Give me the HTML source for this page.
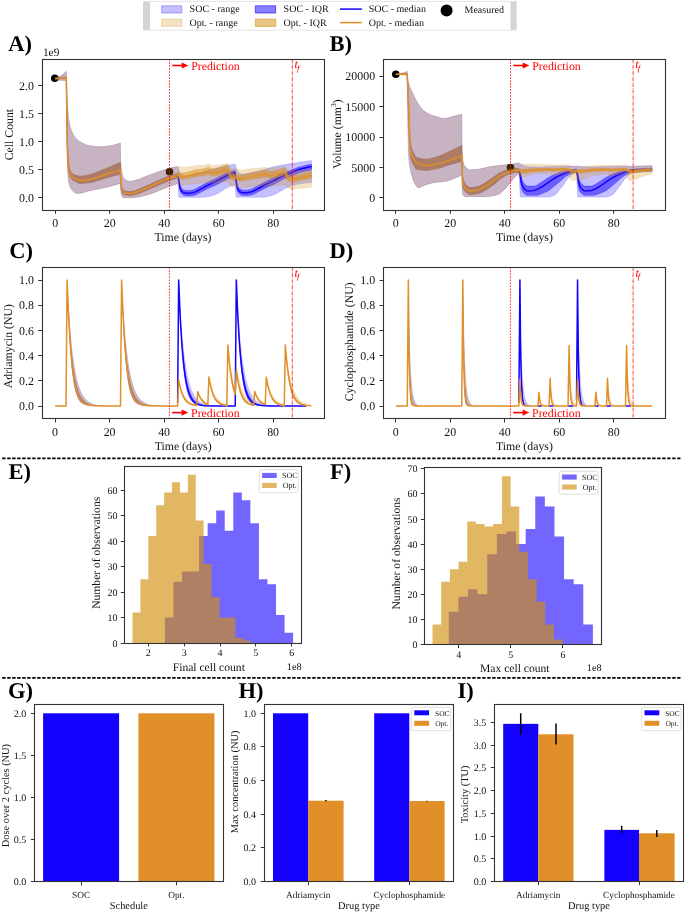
<!DOCTYPE html><html><head><meta charset="utf-8"><style>html,body{margin:0;padding:0;background:#fff;}svg{display:block;will-change:transform;text-rendering:geometricPrecision;}text{font-family:"Liberation Serif",serif;}</style></head><body>
<svg width="685" height="914" viewBox="0 0 685 914">
<rect width="685" height="914" fill="#fff"/>
<rect x="143" y="1" width="373.6" height="29.5" fill="#fff"/>
<rect x="143" y="1.5" width="7" height="28.5" fill="#d4d4d4"/>
<rect x="510.5" y="1.5" width="6.1" height="28.5" fill="#d4d4d4"/>
<line x1="143" y1="1.4" x2="516.6" y2="1.4" stroke="#e4e4e4" stroke-width="1"/>
<line x1="143" y1="30.2" x2="516.6" y2="30.2" stroke="#e4e4e4" stroke-width="1"/>
<rect x="161.6" y="5.8" width="20.2" height="7.2" fill="#1400ff" fill-opacity="0.25" stroke="#1400ff" stroke-opacity="0.25" stroke-width="1.2"/>
<rect x="161.6" y="19.2" width="20.2" height="7.2" fill="#d28e0d" fill-opacity="0.25" stroke="#d28e0d" stroke-opacity="0.25" stroke-width="1.2"/>
<rect x="255.4" y="5.8" width="20.2" height="7.2" fill="#1400ff" fill-opacity="0.5" stroke="#1400ff" stroke-opacity="0.5" stroke-width="1.2"/>
<rect x="255.4" y="19.2" width="20.2" height="7.2" fill="#d28e0d" fill-opacity="0.5" stroke="#d28e0d" stroke-opacity="0.5" stroke-width="1.2"/>
<line x1="340" y1="9.1" x2="361.8" y2="9.1" stroke="#1400ff" stroke-width="1.5"/>
<line x1="340" y1="22.6" x2="361.8" y2="22.6" stroke="#e18f28" stroke-width="1.5"/>
<circle cx="446.6" cy="10.5" r="6" fill="#000"/>
<text x="189.6" y="12.3" font-size="10" text-anchor="start" font-weight="normal" font-style="normal" fill="#111">SOC - range</text>
<text x="189.6" y="25.9" font-size="10" text-anchor="start" font-weight="normal" font-style="normal" fill="#111">Opt. - range</text>
<text x="283.6" y="12.3" font-size="10" text-anchor="start" font-weight="normal" font-style="normal" fill="#111">SOC - IQR</text>
<text x="283.6" y="25.9" font-size="10" text-anchor="start" font-weight="normal" font-style="normal" fill="#111">Opt. - IQR</text>
<text x="368.7" y="12.3" font-size="10" text-anchor="start" font-weight="normal" font-style="normal" fill="#111">SOC - median</text>
<text x="368.7" y="25.9" font-size="10" text-anchor="start" font-weight="normal" font-style="normal" fill="#111">Opt. - median</text>
<text x="464.5" y="13.3" font-size="10" text-anchor="start" font-weight="normal" font-style="normal" fill="#111">Measured</text>
<line x1="2.2" y1="458.3" x2="680.5" y2="458.3" stroke="#000" stroke-width="1.7" stroke-dasharray="3.4 1.6"/>
<line x1="2.2" y1="677.9" x2="680.5" y2="677.9" stroke="#000" stroke-width="1.7" stroke-dasharray="3.4 1.6"/>
<text x="8.3" y="50.7" font-size="22.5" text-anchor="start" font-weight="bold" font-style="normal" fill="#000">A)</text>
<text x="329.6" y="50.7" font-size="22.5" text-anchor="start" font-weight="bold" font-style="normal" fill="#000">B)</text>
<text x="9.2" y="257.5" font-size="22.5" text-anchor="start" font-weight="bold" font-style="normal" fill="#000">C)</text>
<text x="329.6" y="257.6" font-size="22.5" text-anchor="start" font-weight="bold" font-style="normal" fill="#000">D)</text>
<text x="8.6" y="478.6" font-size="22.5" text-anchor="start" font-weight="bold" font-style="normal" fill="#000">E)</text>
<text x="330.1" y="478.6" font-size="22.5" text-anchor="start" font-weight="bold" font-style="normal" fill="#000">F)</text>
<text x="8.1" y="697.5" font-size="22.5" text-anchor="start" font-weight="bold" font-style="normal" fill="#000">G)</text>
<text x="238.6" y="698.4" font-size="22.5" text-anchor="start" font-weight="bold" font-style="normal" fill="#000">H)</text>
<text x="457.6" y="697.6" font-size="22.5" text-anchor="start" font-weight="bold" font-style="normal" fill="#000">I)</text>
<path d="M55.2 78.2L56.71 77.78L58.23 77.2L60.5 75.99L63.27 74.05L66.3 71.3L66.5 80L67.5 103.23L68 112.63L68.51 117.7L69.01 121.25L69.51 123.94L70.76 128.61L71.51 130.72L72.52 133L73.52 134.89L74.77 136.89L76.03 138.5L77.53 139.96L79.29 141.29L81.29 142.53L83.8 143.81L86.31 144.79L88.81 145.61L90.82 146.02L94.83 146.48L98.34 146.74L101.35 146.8L103.85 146.64L107.11 146.2L112.88 145.15L116.39 144.26L120.4 143L120.6 160L121.35 169.87L121.85 173.01L122.61 175.78L123.36 177.35L124.11 178.57L124.86 179.44L125.37 179.82L126.62 180.45L127.88 180.93L129.63 181.28L131.39 181.22L133.39 180.83L136.91 179.84L139.67 178.88L146.19 176.13L163.25 170.05L171.03 167.87L177.8 166.4L178.2 167L178.95 170.34L179.45 171.9L180.2 173.29L180.95 174.33L181.7 174.95L183.45 175.61L185.21 175.96L186.71 175.98L189.96 175.59L196.22 174.22L200.22 173.06L210.23 169.73L213.98 168.67L220.99 166.98L235 164L235.4 165L236.65 169.18L237.65 171.29L238.4 172.48L238.9 172.95L240.66 173.64L242.16 173.95L243.66 173.99L246.92 173.59L254.43 171.97L263.19 169.69L272.45 167.12L279.21 165.61L289.22 163.83L311.5 160.5L311.5 182.5L307.49 182.67L303.24 183.17L295.73 184.49L292.98 185.2L289.72 186.38L285.47 188.26L276.7 193.47L274.45 194.62L272.2 195.43L269.95 196.08L264.94 197.04L262.94 197.2L236.15 197.15L235.9 195.58L235 185L233.5 185.3L231.75 185.8L227.74 187.31L225.49 188.53L218.99 192.76L217.23 193.73L213.73 195.25L211.23 196.05L209.23 196.57L205.97 197.1L203.72 197.3L183.96 197.4L178.95 197.21L178.7 196.65L178.2 186L177.8 183.6L173.28 185.03L168.52 186.73L154.72 192.43L150.96 193.82L146.94 195L143.43 195.88L137.16 197.14L134.15 197.59L132.14 197.7L123.61 197.7L123.11 197.56L122.61 197.14L122.11 196.48L121.6 195.57L121.35 194.5L120.6 189L120.4 183.4L113.88 185.35L107.87 186.95L103.1 188.04L90.82 190.47L82.04 192.91L78.28 193.55L77.28 193.6L76.53 193.46L74.77 192.68L73.52 191.76L72.02 190.16L70.76 188.18L69.76 185.89L69.01 183.47L68.25 179.39L68 176.99L67.5 167.51L67 151.42L66.75 135.9L66.3 80.5L55.2 80 Z" fill="#1400ff" fill-opacity="0.25" stroke="#1400ff" stroke-opacity="0.25" stroke-width="0.6" stroke-linejoin="round"/>
<path d="M55.2 78.2L66.3 76.9L67.25 132.78L67.5 142.61L68 154.89L68.51 161.69L69.01 165.37L69.51 168.11L70.01 170L70.51 171.17L71.26 172.47L72.27 173.61L73.52 174.46L75.02 175.11L77.28 175.75L78.78 176.07L80.04 176.19L81.54 176.17L83.55 175.98L85.55 175.65L91.57 174.28L94.33 173.32L100.34 170.72L110.62 166.7L120.4 162.4L120.6 173L121.1 181.5L121.6 185.38L122.11 187.46L122.61 188.72L123.11 189.65L123.61 190.21L125.37 191.18L126.87 191.58L129.63 191.51L132.89 191.18L135.65 190.45L143.43 187.37L156.98 181.17L166.51 177.07L169.02 176.13L172.03 175.15L177.8 173.6L179.95 184.4L180.45 186.13L181.2 187.64L181.7 188.3L182.45 188.97L183.96 189.9L184.71 190.17L186.21 190.54L187.96 190.7L189.46 190.57L191.21 190.26L193.71 189.64L194.96 189.18L208.98 181.6L211.48 180.38L216.23 178.29L225.24 173.71L227.49 172.7L230 171.75L232.5 170.91L235 170.2L235.4 175.1L237.15 184.01L237.65 185.73L238.15 186.81L238.65 187.61L239.15 188.14L239.91 188.76L240.91 189.38L241.91 189.77L243.41 190.14L244.41 190.28L245.41 190.29L246.92 190.14L248.92 189.74L251.17 189.16L252.42 188.67L266.69 180.94L273.45 177.88L280.96 174.03L284.97 172.19L292.22 169.79L297.73 167.57L299.73 166.88L306.24 165.2L309 164.66L311.5 164.3L311.5 170.1L308.75 170.51L305.99 171.06L299.48 172.75L297.23 173.55L292.22 175.59L286.22 177.77L283.46 179.04L273.95 184.23L268.19 186.8L264.44 188.59L252.92 194.52L251.17 195.12L248.17 195.46L244.41 195.59L241.66 195.22L240.91 194.93L239.91 194.33L238.9 193.51L238.4 192.92L237.65 191.53L237.15 189.8L236.4 185.54L235.4 178.1L235 176L231.25 177.26L227.24 178.95L216.73 184.64L207.48 188.87L195.47 195.03L193.71 195.57L189.46 195.96L186.71 195.96L184.21 195.54L183.45 195.2L182.7 194.73L181.7 193.91L181.2 193.32L180.45 191.92L179.95 190.2L178.95 184.33L178.2 178.5L177.8 178L172.78 179.38L167.76 181.12L142.43 192.13L135.65 194.54L133.9 194.98L132.14 195.19L127.37 195.3L126.12 195.17L124.86 194.79L123.61 194.21L123.11 193.78L122.61 193.06L122.11 192.08L121.6 190.49L121.35 189.29L121.1 187.34L120.6 180L120.4 174.2L114.88 175.52L109.37 176.98L100.34 179.67L94.58 181.6L92.07 182.26L87.81 182.87L83.55 183.29L80.29 183.4L79.03 183.15L78.03 182.72L75.53 181.4L73.02 180.32L72.02 179.61L71.26 178.76L70.26 177.12L69.51 175.09L68.76 171.83L68.25 168.73L67.75 162.46L67.25 145.72L66.3 78.4L55.2 79 Z" fill="#1400ff" fill-opacity="0.5" stroke="#1400ff" stroke-opacity="0.5" stroke-width="0.6" stroke-linejoin="round"/>
<path d="M177.05 175.43L177.8 175.2L178.2 177L179.95 187.36L180.45 189.13L181.2 190.59L181.7 191.21L182.45 191.85L183.45 192.51L184.21 192.84L186.46 193.23L188.46 193.28L190.46 193.07L192.71 192.66L194.21 192.31L195.47 191.83L200.22 189.38L206.22 186.07L210.98 183.71L216.23 181.28L226.24 176.01L230.75 174.08L235 172.6L235.4 176.6L236.9 185.69L237.4 188L238.15 189.78L238.65 190.53L239.15 191.04L240.16 191.81L241.16 192.35L241.91 192.58L243.41 192.81L245.91 192.87L247.92 192.64L250.67 192.11L251.67 191.83L252.92 191.32L257.43 188.97L264.19 185.28L268.44 183.18L273.2 181L282.46 176.1L286.22 174.38L292.22 172.19L297.23 170.15L299.48 169.35L305.99 167.66L308.75 167.11L311.5 166.7" fill="none" stroke="#1400ff" stroke-width="1.5" stroke-linejoin="round"/>
<circle cx="54.8" cy="78.3" r="3.8" fill="#000"/>
<circle cx="169.5" cy="171.7" r="3.8" fill="#000"/>
<path d="M55.2 78.2L56.71 77.78L58.23 77.2L60.5 75.99L63.27 74.05L66.3 71.3L66.5 80L67.5 103.23L68 112.63L68.51 117.7L69.01 121.25L69.51 123.94L70.76 128.61L71.51 130.72L72.52 133L73.52 134.89L74.77 136.89L76.03 138.5L77.53 139.96L79.29 141.29L81.29 142.53L83.8 143.81L86.31 144.79L88.81 145.61L90.82 146.02L94.83 146.48L98.34 146.74L101.35 146.8L103.85 146.64L107.11 146.2L112.88 145.15L116.39 144.26L120.4 143L120.6 160L121.35 169.87L121.85 173.01L122.61 175.78L123.36 177.35L124.11 178.57L124.86 179.44L125.37 179.82L127.62 180.84L129.38 181.26L131.14 181.24L133.39 180.83L137.16 179.77L139.67 178.88L145.94 176.22L162.75 170.22L169.52 168.26L175.79 166.78L178.91 166.27L179.87 166.83L181.09 167.18L182.59 167.31L184.36 167.24L188.72 166.72L197.99 165.28L199.62 165.43L201.67 165.33L209.16 164.25L209.98 164.82L211.07 165.25L212.3 165.45L213.93 165.46L218.29 164.98L227.96 163.4L228.65 165.26L229.33 166.52L230.14 167.53L231.1 168.24L232.05 168.65L233.28 168.89L234.64 168.95L236.41 168.86L237.09 169.29L237.91 169.62L239.82 169.91L241.73 169.88L244.31 169.64L254.94 168.17L256.71 168.31L259.3 168.15L266.39 167.19L267.48 167.84L268.7 168.18L270.2 168.31L272.11 168.24L276.47 167.72L285.46 166.37L286.42 168.58L286.96 169.41L287.51 170.02L288.19 170.56L288.87 170.92L289.69 171.2L290.78 171.38L292.82 171.42L295.95 171.16L311.35 169.11L311.35 187.19L306.04 187.75L294.73 188.79L292 188.89L290.09 188.77L288.46 188.35L287.23 187.58L286.28 186.44L285.46 184.72L276.74 185.84L271.97 186.3L270.07 186.34L268.57 186.21L267.34 185.87L266.39 185.35L259.17 186.16L256.71 186.28L254.94 186.15L243.91 187.36L241.18 187.53L239.27 187.49L237.64 187.2L236.41 186.65L234.64 186.72L233.14 186.64L231.92 186.41L230.96 186.03L230.01 185.34L229.19 184.35L228.51 183.03L227.96 181.46L219.52 182.82L214.88 183.4L212.84 183.46L211.34 183.29L210.12 182.87L209.16 182.21L204.67 182.89L201.67 183.25L199.62 183.34L197.99 183.18L188.45 184.54L183.68 185.01L182.05 185L180.82 184.85L179.73 184.5L178.91 184.03L177.82 184.19L177.8 183.6L173.28 185.03L168.52 186.73L152.71 193.21L149.7 194.21L145.94 195.27L142.93 195.99L138.16 196.95L134.4 197.56L132.14 197.7L123.61 197.7L123.11 197.56L122.36 196.84L121.6 195.57L121.35 194.5L120.6 189L120.4 183.4L113.88 185.35L107.87 186.95L103.1 188.04L90.82 190.47L81.79 192.96L78.03 193.57L77.03 193.57L76.28 193.37L74.52 192.54L73.27 191.53L71.76 189.83L70.76 188.18L69.76 185.89L69.01 183.47L68.25 179.39L68 176.99L67.5 167.51L67 151.42L66.75 135.9L66.3 80.5L55.2 80 Z" fill="#d28e0d" fill-opacity="0.25" stroke="#d28e0d" stroke-opacity="0.25" stroke-width="0.6" stroke-linejoin="round"/>
<path d="M55.2 78.2L66.3 76.9L67.25 132.78L67.75 149.85L68.25 158.79L68.51 161.69L69.01 165.37L69.51 168.11L70.26 170.64L71.01 172.09L72.02 173.38L73.27 174.32L74.77 175.03L77.03 175.69L78.53 176.02L79.79 176.18L81.29 176.18L83.3 176.01L85.3 175.7L91.57 174.28L94.33 173.32L100.34 170.72L110.62 166.7L120.4 162.4L120.6 173L120.85 177.66L121.35 183.87L121.85 186.56L122.61 188.72L123.11 189.65L123.61 190.21L124.61 190.83L125.62 191.28L126.62 191.55L127.62 191.6L130.13 191.47L132.89 191.18L134.9 190.69L137.16 189.91L143.68 187.26L156.73 181.28L166.26 177.17L168.77 176.22L171.78 175.23L174.79 174.35L177.8 173.6L177.82 171.91L178.91 171.6L179.87 172.44L181.09 172.95L182.46 173.1L184.23 172.95L186.27 172.56L189.13 171.85L197.99 169.27L198.81 169.43L199.62 169.46L201.67 169.21L204.67 168.45L209.16 167.04L210.12 168.12L211.21 168.75L212.57 169.01L214.2 168.91L216.25 168.5L218.97 167.73L227.96 164.7L228.51 167.45L229.19 169.78L230.01 171.56L230.96 172.78L231.92 173.45L233.14 173.84L234.64 173.91L236.41 173.72L237.09 174.37L237.77 174.79L238.59 175.08L239.55 175.23L241.59 175.15L244.31 174.68L248.81 173.6L254.94 171.96L255.76 172.1L256.71 172.12L259.17 171.79L262.16 171.07L266.39 169.86L267.34 170.84L267.89 171.18L268.57 171.45L270.07 171.65L271.97 171.47L274.02 171.05L276.88 170.29L285.46 167.64L286.28 171.1L286.82 172.6L287.37 173.67L288.05 174.6L288.73 175.21L289.55 175.66L290.64 175.96L291.73 176.03L292.96 175.97L296.5 175.36L303.17 173.75L311.35 171.53L311.35 178.23L298.68 180.85L294.86 181.49L292.41 181.74L291.05 181.74L289.82 181.54L288.73 181.11L287.91 180.49L287.23 179.69L286.55 178.48L286.01 177.06L285.46 175.04L276.88 177.15L271.97 178.09L270.07 178.22L268.57 178.06L267.34 177.57L266.39 176.78L261.75 177.83L258.76 178.38L256.58 178.58L254.94 178.44L248.13 179.88L243.5 180.72L240.77 181.02L238.86 180.94L237.5 180.55L236.41 179.81L234.64 179.96L233.14 179.9L231.92 179.58L230.96 179.05L230.01 178.06L229.19 176.62L228.51 174.72L227.96 172.47L219.11 174.89L216.25 175.54L214.2 175.87L212.57 175.95L211.21 175.73L210.12 175.22L209.16 174.33L204.67 175.47L201.67 176.08L199.62 176.28L197.99 176.12L189.27 178.16L184.23 179.07L182.59 179.19L181.23 179.09L180 178.72L178.91 177.97L177.82 178.22L177.8 178L172.78 179.38L167.76 181.12L142.43 192.13L135.65 194.54L133.9 194.98L132.14 195.19L127.37 195.3L126.12 195.17L124.86 194.79L123.61 194.21L123.11 193.78L122.61 193.06L122.11 192.08L121.6 190.49L121.35 189.29L121.1 187.34L120.6 180L120.4 174.2L114.88 175.52L109.37 176.98L100.34 179.67L94.58 181.6L92.07 182.26L87.81 182.87L83.55 183.29L80.29 183.4L79.03 183.15L78.03 182.72L75.53 181.4L73.02 180.32L72.02 179.61L71.26 178.76L70.26 177.12L69.51 175.09L68.76 171.83L68.25 168.73L67.75 162.46L67.25 145.72L66.3 78.4L55.2 79 Z" fill="#d28e0d" fill-opacity="0.5" stroke="#d28e0d" stroke-opacity="0.5" stroke-width="0.6" stroke-linejoin="round"/>
<path d="M55.2 78.6L61 78.22L66.3 77.6L67.25 139.69L67.75 157.12L68.25 164.64L68.51 166.85L69.26 171.09L70.01 173.75L70.76 175.26L71.76 176.62L73.02 177.67L74.52 178.48L77.28 179.59L78.53 180.01L79.79 180.27L84.3 180.22L87.06 180L91.57 179.11L96.33 177.73L102.85 175.54L110.87 172.68L120.4 169.6L120.6 177L121.1 184.27L121.6 187.66L122.11 189.5L122.86 191.16L123.61 192.11L124.86 192.85L125.87 193.26L126.87 193.48L127.88 193.49L130.38 193.35L132.89 193.08L134.65 192.68L136.91 191.95L143.68 189.27L156.73 183.28L165.51 179.52L171.53 177.24L177.8 175.2L177.82 175.54L178.91 175.27L179.87 176.01L181.09 176.47L182.46 176.6L184.09 176.49L186.27 176.13L189.13 175.5L197.99 173.21L198.81 173.36L199.9 173.37L202.49 173L205.21 172.35L209.16 171.24L210.12 172.21L211.21 172.77L212.57 173L214.2 172.92L216.25 172.55L219.11 171.83L227.96 169.17L228.51 171.63L229.19 173.72L230.01 175.3L230.96 176.39L231.92 176.98L233.14 177.32L234.64 177.39L236.41 177.22L237.09 177.79L237.77 178.16L238.59 178.42L239.55 178.56L241.59 178.49L244.31 178.08L248.81 177.13L254.94 175.68L256.71 175.83L259.17 175.54L262.16 174.91L266.39 173.84L267.34 174.71L268.57 175.25L270.07 175.43L271.97 175.28L274.02 174.91L276.88 174.23L285.46 171.9L286.28 174.97L286.82 176.29L287.37 177.24L288.05 178.06L288.73 178.6L289.55 179L290.64 179.26L291.73 179.33L292.96 179.27L296.5 178.74L303.17 177.33L311.35 175.39" fill="none" stroke="#e18f28" stroke-width="1.5" stroke-linejoin="round"/>
<path d="M395.8 74.4L398.59 73.91L401.63 73.2L404.41 72.38L407.2 71.4L407.4 76L408.15 80.71L408.9 84.17L410.16 87.74L414.17 96.41L415.67 99.38L417.18 101.99L419.43 105.63L421.19 108.08L422.19 109.24L423.19 110.16L425.2 111.7L427.2 113.01L428.96 113.98L430.96 114.89L436.73 116.85L440.99 117.95L443 118.26L444.75 118.39L446.01 118.37L447.51 118.11L453.03 116.35L461.8 114.2L462 150L462.75 159.19L463 161.01L463.5 163.38L464 164.94L464.25 165.38L465.51 167.02L466.76 168.31L468.01 169.23L469.01 169.68L470.01 169.89L472.02 169.85L478.53 169.13L481.78 168.56L489.3 166.82L492.55 166.21L496.56 165.73L508.58 164.6L513.09 163.96L518.6 163L519.2 163.5L521.71 164.84L523.21 165.5L524.47 165.89L529.74 166.69L534.25 166.99L538.77 166.94L548.8 166.54L557.33 166.32L576.7 166L581.21 166.42L587.22 166.83L590.48 166.97L593.48 166.99L606.76 166.52L619.28 166.21L652.1 165.8L652.1 171.7L642.83 171.89L633.81 172.49L632.81 172.66L631.81 172.97L630.31 173.78L629.05 174.75L627.05 176.55L625.3 178.44L623.04 181.35L619.54 186.58L614.27 193.04L613.27 194.13L612.02 195.05L610.27 195.95L607.76 196.75L606.01 197.08L577.95 197.1L577.7 196.77L577.45 193.42L576.7 175L576.4 172.5L574.64 172.92L573.14 173.69L571.38 175.07L569.12 177.16L567.62 178.9L565.86 181.18L563.1 185.39L562.1 186.76L556.83 193.22L555.83 194.26L554.32 195.28L552.82 196.01L550.31 196.79L548.8 197.07L520.45 197.05L520.2 195.1L519.95 191.02L519.2 175L518.6 173L512.84 179.53L506.83 187.01L503.07 190.8L501.07 192.62L499.57 193.71L498.06 194.45L493.81 195.64L490.05 196.37L488.05 196.6L486.04 196.7L465.76 196.7L464.75 196.53L464 196.09L463.25 195.32L462.75 194.59L462.5 193.23L462 186L461.8 175L458.54 176.65L455.28 178.09L451.27 179.59L448.01 180.65L446.01 181.16L444 181.52L434.98 182.53L431.47 183.14L428.71 183.91L424.45 185.35L419.93 187.41L418.68 187.68L417.93 187.63L417.43 187.33L416.68 186.54L414.67 183.43L413.67 181.2L412.66 178.27L410.91 172.14L410.16 168.72L409.41 163.73L408.9 159.12L408.65 155.65L408.4 148.62L407.9 126.53L407.4 100L407.2 75L395.8 74.8 Z" fill="#1400ff" fill-opacity="0.25" stroke="#1400ff" stroke-opacity="0.25" stroke-width="0.6" stroke-linejoin="round"/>
<path d="M395.8 74.1L407.2 73.5L407.4 79L407.9 85.66L408.4 95.65L408.9 107.94L409.41 125.61L410.16 139.51L410.66 143.86L411.16 146.59L411.66 148.54L412.16 150.09L412.92 151.88L415.17 155.93L415.92 156.92L416.68 157.49L418.93 158.25L421.44 158.85L423.69 159.18L426.2 159.3L428.21 159.17L430.46 158.78L432.97 158.12L437.73 156.67L440.74 155.55L453.78 149.51L461.8 145.6L462 160L462.5 173.32L462.75 176.3L463.25 178.87L463.75 180.8L464.25 182.21L464.75 183.22L465.51 184.28L467.01 185.87L468.26 186.89L469.26 187.4L469.76 187.55L470.52 187.6L473.52 187.36L478.03 186.49L479.78 185.92L482.04 184.8L486.79 181.92L497.56 174.29L499.07 173.32L500.57 172.5L504.32 170.94L507.58 169.87L510.08 169.32L515.09 168.61L518.6 168.4L519.2 170L519.7 170.81L520.2 172.13L521.46 178.08L521.96 179.58L522.71 181.32L523.72 183.03L524.72 184.16L526.22 185.53L527.23 186.04L533.75 186.1L534.5 186.02L535.26 185.82L536.26 185.39L537.51 184.68L542.53 181.49L548.05 177.79L552.06 175.55L555.08 174.13L559.59 172.56L566.11 170.79L571.13 169.76L576.4 169L577.45 172.02L578.95 178.77L580.21 181.71L581.21 183.28L583.21 185.3L583.96 185.81L584.47 186.02L584.97 186.1L590.98 186.1L591.73 186.03L592.48 185.84L594.23 185.03L599.75 181.55L604.76 178.15L609.52 175.47L613.02 173.87L617.53 172.37L621.54 171.26L625.05 170.42L629.3 169.6L632.31 169.14L642.83 168.43L652.1 168.2L652.1 170.7L642.83 170.9L634.06 171.47L632.31 171.76L630.06 172.63L625.55 174.91L623.79 175.98L622.04 177.19L620.79 178.24L617.78 181.05L614.27 184.06L608.26 188.99L606.26 190.45L604.51 191.41L602.25 192.41L595.99 194.79L594.23 195.24L593.23 195.3L584.47 195.25L583.46 194.89L582.46 194.29L581.21 193.34L580.46 192.53L579.46 190.8L578.95 189.57L578.7 188.55L578.2 185.32L576.7 173L576.4 171.5L573.64 172.41L570.38 173.82L567.87 175.13L565.61 176.57L563.86 177.91L560.34 181.17L556.33 184.6L550.81 189.12L548.8 190.55L547.05 191.49L545.04 192.37L539.02 194.67L537.51 195.13L536.26 195.3L527.23 195.26L526.22 194.92L525.22 194.33L523.97 193.39L523.21 192.6L522.21 190.92L521.71 189.72L521.46 188.77L520.96 185.5L520.2 179.43L519.2 173L518.6 172.2L515.34 172.45L511.59 173.17L509.08 173.83L506.58 174.96L504.07 176.45L500.32 178.98L498.56 180.41L494.06 184.41L490.05 187.32L486.54 189.53L482.79 191.59L480.78 192.57L479.53 193.07L478.28 193.44L474.02 194.21L470.52 194.5L469.76 194.46L469.01 194.26L468.01 193.79L467.01 193.11L465.51 191.82L464.75 190.97L464.25 190.15L463.75 189L463 186.41L462.75 185.26L462.5 182.55L462 170L461.8 161.5L455.28 163.11L448.26 165.04L441.24 167.41L438.74 168.16L433.47 169.31L430.21 169.89L427.96 170.13L425.95 170.2L422.69 170.11L419.68 169.85L416.68 169.39L416.17 169.11L415.42 168.14L412.66 163L411.66 160.6L411.16 158.95L410.66 156.61L410.16 152.8L409.66 145.15L409.41 139.54L408.65 111.64L407.9 91.74L407.4 82L407.2 74.5L395.8 74.6 Z" fill="#1400ff" fill-opacity="0.5" stroke="#1400ff" stroke-opacity="0.5" stroke-width="0.6" stroke-linejoin="round"/>
<path d="M517.85 169.97L518.6 169.9L519.7 172.92L520.2 174.93L521.46 182.74L521.71 183.73L522.46 185.75L523.21 187.28L523.97 188.36L525.72 190.03L526.98 190.77L527.48 190.89L528.73 190.89L532.5 190.63L534.5 190.36L536.01 189.87L538.02 188.9L542.28 186.51L554.07 178.5L556.83 176.9L559.84 175.33L563.61 173.71L567.87 172.24L572.39 171.07L576.4 170.3L577.45 174.77L578.7 182.51L578.95 183.55L579.71 185.62L580.71 187.6L581.21 188.29L582.21 189.31L583.21 190.18L583.96 190.64L584.47 190.83L585.22 190.9L587.97 190.79L591.23 190.47L592.48 190.17L593.98 189.57L600 186.25L610.27 179.22L613.27 177.37L616.28 175.76L618.78 174.57L621.54 173.47L624.29 172.51L630.06 170.94L633.31 170.34L643.08 169.71L652.1 169.5" fill="none" stroke="#1400ff" stroke-width="1.5" stroke-linejoin="round"/>
<circle cx="395.8" cy="74.3" r="3.8" fill="#000"/>
<circle cx="510.5" cy="167.6" r="3.8" fill="#000"/>
<path d="M395.8 74.4L398.59 73.91L401.63 73.2L404.41 72.38L407.2 71.4L407.4 76L408.15 80.71L408.9 84.17L410.16 87.74L414.17 96.41L415.67 99.38L417.18 101.99L419.43 105.63L421.19 108.08L422.19 109.24L423.19 110.16L425.2 111.7L427.2 113.01L428.96 113.98L430.96 114.89L436.73 116.85L440.99 117.95L443 118.26L444.75 118.39L446.01 118.37L447.51 118.11L453.03 116.35L461.8 114.2L462 150L462.75 159.19L463 161.01L463.5 163.38L464 164.94L464.25 165.38L465.51 167.02L466.76 168.31L468.01 169.23L469.01 169.68L470.01 169.89L472.02 169.85L478.53 169.13L481.78 168.56L489.3 166.82L492.55 166.21L496.56 165.73L508.58 164.6L513.09 163.96L518.6 163L518.42 163.57L519.52 163.59L520.55 163.92L521.8 164.14L524.2 164.32L538.59 164.25L542.02 164.45L549.76 164.38L551.67 164.84L554.4 164.99L568.57 164.63L569.16 165.27L569.87 165.8L570.69 166.19L571.62 166.45L573.74 166.64L577.01 166.49L578.05 166.69L579.36 166.78L582.24 166.66L595.54 165.61L598.76 165.62L606.99 165.21L608.9 165.6L611.57 165.66L626.06 164.99L627.04 165.92L628.24 166.53L629.66 166.83L631.57 166.91L634.13 166.76L644.65 165.86L651.95 165.38L651.95 173.92L648.19 174.79L644.54 175.85L640.61 177.21L633.75 179.92L632.22 180.38L631.02 180.56L630.04 180.5L629.22 180.22L628.52 179.69L627.92 178.94L627.37 177.9L626.88 176.55L626.44 174.87L626.06 172.86L621.16 173.65L613.47 175.31L611.29 175.63L609.88 175.59L608.73 175.25L607.81 174.58L606.99 173.51L598.59 175.14L596.85 175.23L595.54 174.99L590.42 176.58L582.9 179.49L580.77 180.17L579.57 180.38L578.59 180.35L577.72 180.07L577.01 179.57L574.89 180.26L573.31 180.49L572.38 180.39L571.62 180.07L570.96 179.54L570.36 178.76L569.82 177.67L569.38 176.43L568.95 174.74L568.57 172.72L563.28 173.51L555.98 174.95L553.9 175.17L552.54 175.06L551.45 174.65L550.53 173.9L549.76 172.82L543.82 173.67L541.75 173.87L539.95 173.82L538.59 173.41L532.81 174.62L524.8 176.81L523.55 177.05L522.51 177.13L521.59 177.05L520.82 176.81L520.11 176.36L519.52 175.74L518.42 176.09L518.6 173L512.84 179.53L506.83 187.01L502.82 191.04L500.57 193.01L498.82 194.13L496.56 194.9L492.3 195.97L488.3 196.58L485.79 196.7L465.76 196.7L464.75 196.53L464 196.09L463.25 195.32L462.75 194.59L462.5 193.23L462 186L461.8 175L458.54 176.65L455.28 178.09L451.27 179.59L448.01 180.65L446.01 181.16L444 181.52L434.98 182.53L431.47 183.14L428.71 183.91L424.45 185.35L419.93 187.41L418.68 187.68L417.93 187.63L417.43 187.33L416.68 186.54L414.67 183.43L413.67 181.2L412.66 178.27L410.91 172.14L410.16 168.72L409.41 163.73L408.9 159.12L408.65 155.65L408.4 148.62L407.9 126.53L407.4 100L407.2 75L395.8 74.8 Z" fill="#d28e0d" fill-opacity="0.25" stroke="#d28e0d" stroke-opacity="0.25" stroke-width="0.6" stroke-linejoin="round"/>
<path d="M395.8 74.1L407.2 73.5L407.4 79L407.9 85.66L408.4 95.65L408.9 107.94L409.41 125.61L410.16 139.51L410.66 143.86L411.16 146.59L411.66 148.54L412.16 150.09L412.92 151.88L415.17 155.93L415.92 156.92L416.68 157.49L418.93 158.25L421.44 158.85L423.69 159.18L426.2 159.3L428.21 159.17L430.46 158.78L432.97 158.12L437.73 156.67L440.74 155.55L453.78 149.51L461.8 145.6L462 160L462.5 173.32L462.75 176.3L463.25 178.87L463.75 180.8L464.25 182.21L464.75 183.22L465.51 184.28L467.01 185.87L468.26 186.89L469.26 187.4L469.76 187.55L470.52 187.6L473.52 187.36L478.03 186.49L479.78 185.92L482.04 184.8L486.79 181.92L497.56 174.29L499.07 173.32L500.57 172.5L504.32 170.94L507.58 169.87L510.08 169.32L515.09 168.61L518.6 168.4L518.42 169.22L519.52 169.12L520.71 169.3L522.19 169.35L538.59 168.37L541.7 168.43L549.76 168.18L551.51 168.53L554.01 168.62L568.57 168.11L569.44 168.88L570.47 169.4L571.73 169.69L573.31 169.77L577.01 169.54L578.48 169.72L580.5 169.7L589.55 168.93L595.54 168.54L598.59 168.57L606.99 168.25L608.79 168.6L611.29 168.67L626.06 168.12L626.93 168.89L627.97 169.41L629.22 169.7L630.75 169.78L633.09 169.67L643.5 168.78L651.95 168.33L651.95 170.91L643.61 171.74L633.42 173.27L631.08 173.49L629.33 173.36L628.02 172.86L627.48 172.47L626.93 171.91L626.06 170.51L611.35 171.53L609.93 171.52L608.79 171.4L607.81 171.15L606.99 170.77L598.59 171.37L596.85 171.41L595.54 171.33L589.55 172.04L581.54 173.28L579.36 173.46L578.05 173.39L577.01 173.12L573.69 173.5L572.54 173.48L571.56 173.31L570.64 172.94L569.87 172.39L569.16 171.57L568.57 170.53L554.07 171.54L552.71 171.53L551.56 171.41L550.58 171.16L549.76 170.79L541.64 171.37L539.9 171.41L538.59 171.32L532.98 171.99L524.2 173.38L521.8 173.63L520.55 173.59L519.52 173.37L518.42 173.6L518.6 172.2L515.34 172.45L512.84 172.9L509.58 173.67L507.83 174.33L505.83 175.38L503.57 176.78L500.07 179.17L494.31 184.21L490.55 186.98L486.79 189.39L481.28 192.35L479.78 192.98L478.53 193.38L474.52 194.14L472.52 194.39L470.77 194.49L469.76 194.46L469.01 194.26L468.01 193.79L467.01 193.11L465.51 191.82L464.75 190.97L464.25 190.15L463.75 189L463 186.41L462.75 185.26L462.5 182.55L462 170L461.8 161.5L455.28 163.11L448.26 165.04L441.24 167.41L438.74 168.16L433.47 169.31L430.21 169.89L427.96 170.13L425.95 170.2L422.69 170.11L419.68 169.85L416.68 169.39L416.17 169.11L415.42 168.14L412.66 163L411.66 160.6L411.16 158.95L410.66 156.61L410.16 152.8L409.66 145.15L409.41 139.54L408.65 111.64L407.9 91.74L407.4 82L407.2 74.5L395.8 74.6 Z" fill="#d28e0d" fill-opacity="0.5" stroke="#d28e0d" stroke-opacity="0.5" stroke-width="0.6" stroke-linejoin="round"/>
<path d="M395.8 74.3L407.2 74L407.4 80L407.9 88.07L408.65 106.01L409.41 132.52L410.16 146.45L410.66 150.48L411.16 152.92L411.66 154.61L412.16 155.91L413.17 157.78L415.92 161.82L416.93 162.96L417.93 163.73L420.44 164.6L422.94 165.2L425.2 165.47L427.46 165.47L430.21 165.2L433.72 164.61L438.99 163.54L443 162.46L448.76 160.58L452.52 159.19L457.04 157.32L461.8 155.1L462 166L462.5 178.25L462.75 180.97L463.25 183.28L463.75 185L464.25 186.26L464.75 187.16L465.51 188.1L467.01 189.54L468.01 190.3L469.01 190.83L470.26 191.1L473.27 190.87L478.03 189.89L479.78 189.31L482.29 188.04L487.04 185.16L493.81 180.34L498.56 176.81L500.07 175.83L501.82 174.88L505.58 173.11L509.08 171.82L513.84 170.63L517.6 170L518.6 169.9L518.42 170.5L519.52 170.39L520.77 170.6L522.29 170.64L538.59 169.51L541.7 169.58L549.76 169.29L551.51 169.69L554.01 169.8L568.57 169.21L569.16 169.87L569.87 170.39L570.64 170.75L571.56 171L573.69 171.12L577.01 170.86L578.05 171.04L579.3 171.09L581.37 170.98L589.38 170.18L595.54 169.71L598.59 169.75L606.99 169.38L608.79 169.78L611.29 169.86L626.06 169.23L626.93 170.11L627.97 170.71L629.22 171.04L630.8 171.14L633.15 171L643.5 169.99L651.95 169.47" fill="none" stroke="#e18f28" stroke-width="1.5" stroke-linejoin="round"/>
<line x1="169.5" y1="59.1" x2="169.5" y2="210" stroke="#ff0000" stroke-width="0.9" stroke-opacity="0.85" stroke-dasharray="1.8 1.2"/>
<line x1="292.3" y1="59.1" x2="292.3" y2="210" stroke="#ff0000" stroke-width="0.9" stroke-opacity="0.85" stroke-dasharray="3.6 0.9 0.7 0.9"/>
<rect x="42.5" y="59.5" width="282" height="151" fill="none" stroke="#333333" stroke-width="1.1"/>
<line x1="38.2" y1="197.5" x2="42" y2="197.5" stroke="#333333" stroke-width="1"/>
<text x="33.9" y="201.52" font-size="11.9" text-anchor="end" font-weight="normal" font-style="normal" fill="#111">0.0</text>
<line x1="38.2" y1="169.5" x2="42" y2="169.5" stroke="#333333" stroke-width="1"/>
<text x="33.9" y="173.62" font-size="11.9" text-anchor="end" font-weight="normal" font-style="normal" fill="#111">0.5</text>
<line x1="38.2" y1="141.5" x2="42" y2="141.5" stroke="#333333" stroke-width="1"/>
<text x="33.9" y="145.72" font-size="11.9" text-anchor="end" font-weight="normal" font-style="normal" fill="#111">1.0</text>
<line x1="38.2" y1="113.5" x2="42" y2="113.5" stroke="#333333" stroke-width="1"/>
<text x="33.9" y="117.82" font-size="11.9" text-anchor="end" font-weight="normal" font-style="normal" fill="#111">1.5</text>
<line x1="38.2" y1="85.5" x2="42" y2="85.5" stroke="#333333" stroke-width="1"/>
<text x="33.9" y="89.92" font-size="11.9" text-anchor="end" font-weight="normal" font-style="normal" fill="#111">2.0</text>
<line x1="55.5" y1="210" x2="55.5" y2="213.8" stroke="#333333" stroke-width="1"/>
<text x="55.2" y="226.8" font-size="11.9" text-anchor="middle" font-weight="normal" font-style="normal" fill="#111">0</text>
<line x1="109.5" y1="210" x2="109.5" y2="213.8" stroke="#333333" stroke-width="1"/>
<text x="109.7" y="226.8" font-size="11.9" text-anchor="middle" font-weight="normal" font-style="normal" fill="#111">20</text>
<line x1="164.5" y1="210" x2="164.5" y2="213.8" stroke="#333333" stroke-width="1"/>
<text x="164.2" y="226.8" font-size="11.9" text-anchor="middle" font-weight="normal" font-style="normal" fill="#111">40</text>
<line x1="218.5" y1="210" x2="218.5" y2="213.8" stroke="#333333" stroke-width="1"/>
<text x="218.7" y="226.8" font-size="11.9" text-anchor="middle" font-weight="normal" font-style="normal" fill="#111">60</text>
<line x1="273.5" y1="210" x2="273.5" y2="213.8" stroke="#333333" stroke-width="1"/>
<text x="273.2" y="226.8" font-size="11.9" text-anchor="middle" font-weight="normal" font-style="normal" fill="#111">80</text>
<text x="183" y="241.4" font-size="11.8" text-anchor="middle" font-weight="normal" font-style="normal" fill="#111">Time (days)</text>
<text x="12.9" y="134.6" font-size="11.8" text-anchor="middle" font-weight="normal" font-style="normal" fill="#111" transform="rotate(-90 12.9 134.6)">Cell Count</text>
<text x="42.9" y="55.8" font-size="11.4" text-anchor="start" font-weight="normal" font-style="normal" fill="#111">1e9</text>
<line x1="172.3" y1="65.5" x2="183.0" y2="65.5" stroke="#ff0000" stroke-width="1.6"/>
<path d="M181.7 62.4 L188.4 65.5 L181.7 68.6 Z" fill="#ff0000"/>
<text x="191.2" y="69.6" font-size="11.8" text-anchor="start" font-weight="normal" font-style="normal" fill="#ff0000">Prediction</text>
<text x="294.6" y="68.3" font-size="11.8" font-style="italic" fill="#ff0000">t<tspan font-size="8.6" dx="-0.9" dy="2.8">f</tspan></text>
<line x1="510.5" y1="59.1" x2="510.5" y2="210" stroke="#ff0000" stroke-width="0.9" stroke-opacity="0.85" stroke-dasharray="1.8 1.2"/>
<line x1="633.1" y1="59.1" x2="633.1" y2="210" stroke="#ff0000" stroke-width="0.9" stroke-opacity="0.85" stroke-dasharray="3.6 0.9 0.7 0.9"/>
<rect x="383.5" y="59.5" width="282" height="151" fill="none" stroke="#333333" stroke-width="1.1"/>
<line x1="379.4" y1="197.5" x2="383.2" y2="197.5" stroke="#333333" stroke-width="1"/>
<text x="375.1" y="202.02" font-size="11.9" text-anchor="end" font-weight="normal" font-style="normal" fill="#111">0</text>
<line x1="379.4" y1="167.5" x2="383.2" y2="167.5" stroke="#333333" stroke-width="1"/>
<text x="375.1" y="171.62" font-size="11.9" text-anchor="end" font-weight="normal" font-style="normal" fill="#111">5000</text>
<line x1="379.4" y1="137.5" x2="383.2" y2="137.5" stroke="#333333" stroke-width="1"/>
<text x="375.1" y="141.22" font-size="11.9" text-anchor="end" font-weight="normal" font-style="normal" fill="#111">10000</text>
<line x1="379.4" y1="106.5" x2="383.2" y2="106.5" stroke="#333333" stroke-width="1"/>
<text x="375.1" y="110.82" font-size="11.9" text-anchor="end" font-weight="normal" font-style="normal" fill="#111">15000</text>
<line x1="379.4" y1="76.5" x2="383.2" y2="76.5" stroke="#333333" stroke-width="1"/>
<text x="375.1" y="80.42" font-size="11.9" text-anchor="end" font-weight="normal" font-style="normal" fill="#111">20000</text>
<line x1="395.5" y1="210" x2="395.5" y2="213.8" stroke="#333333" stroke-width="1"/>
<text x="395.8" y="226.8" font-size="11.9" text-anchor="middle" font-weight="normal" font-style="normal" fill="#111">0</text>
<line x1="450.5" y1="210" x2="450.5" y2="213.8" stroke="#333333" stroke-width="1"/>
<text x="450.3" y="226.8" font-size="11.9" text-anchor="middle" font-weight="normal" font-style="normal" fill="#111">20</text>
<line x1="504.5" y1="210" x2="504.5" y2="213.8" stroke="#333333" stroke-width="1"/>
<text x="504.8" y="226.8" font-size="11.9" text-anchor="middle" font-weight="normal" font-style="normal" fill="#111">40</text>
<line x1="559.5" y1="210" x2="559.5" y2="213.8" stroke="#333333" stroke-width="1"/>
<text x="559.3" y="226.8" font-size="11.9" text-anchor="middle" font-weight="normal" font-style="normal" fill="#111">60</text>
<line x1="613.5" y1="210" x2="613.5" y2="213.8" stroke="#333333" stroke-width="1"/>
<text x="613.8" y="226.8" font-size="11.9" text-anchor="middle" font-weight="normal" font-style="normal" fill="#111">80</text>
<text x="524.4" y="241.4" font-size="11.8" text-anchor="middle" font-weight="normal" font-style="normal" fill="#111">Time (days)</text>
<text x="340.5" y="134" font-size="11.8" text-anchor="middle" font-weight="normal" font-style="normal" fill="#111" transform="rotate(-90 340.5 134)">Volume (mm<tspan font-size="7.6" dy="-4.2">3</tspan><tspan dy="4.2">)</tspan></text>
<line x1="513.3" y1="65.5" x2="524.0" y2="65.5" stroke="#ff0000" stroke-width="1.6"/>
<path d="M522.7 62.4 L529.4 65.5 L522.7 68.6 Z" fill="#ff0000"/>
<text x="532.2" y="69.6" font-size="11.8" text-anchor="start" font-weight="normal" font-style="normal" fill="#ff0000">Prediction</text>
<text x="635.3" y="68.3" font-size="11.8" font-style="italic" fill="#ff0000">t<tspan font-size="8.6" dx="-0.9" dy="2.8">f</tspan></text>
<path d="M55.1 406L66 406L67.09 280L68.34 302.46L69.71 322.36L71.12 339.01L72.7 353.7L74.39 365.86L75.32 371.28L76.3 376.22L77.28 380.47L78.37 384.47L79.46 387.85L80.66 390.96L81.81 393.43L83 395.58L84.26 397.44L85.62 399.08L87.09 400.51L88.73 401.75L90.47 402.76L92.38 403.6L94.34 404.23L96.57 404.76L99.08 405.16L101.92 405.46L109.11 405.83L120.5 405.97L121.59 279.98L123.28 309.28L124.21 322.34L125.19 334.26L126.17 344.47L127.26 354.13L128.4 362.64L129.6 370.07L130.86 376.47L132.22 382.15L133.69 387.06L135.27 391.21L136.96 394.65L138.87 397.58L139.85 398.78L140.94 399.91L142.03 400.87L143.23 401.75L145.41 402.98L147.86 403.94L150.69 404.68L154.02 405.22L157.78 405.56L162.52 405.79L177.59 405.98L178.68 279.98L179.96 302.89L181.32 322.7L182.79 339.85L184.43 354.79L186.17 367.03L187.1 372.3L188.08 377.1L189.12 381.42L190.21 385.28L191.35 388.68L192.6 391.77L193.75 394.1L195 396.22L196.31 398.04L197.75 399.65L199.31 401.02L200.94 402.14L202.74 403.09L204.76 403.88L206.83 404.47L209.12 404.93L211.73 405.29L214.78 405.56L222.47 405.87L235.22 405.98L236.31 279.98L237.73 305.07L239.2 325.84L240.84 343.95L241.71 351.87L242.63 359.18L243.62 365.85L244.6 371.57L245.63 376.72L246.78 381.53L247.98 385.72L249.23 389.33L250.59 392.54L252.06 395.31L253.37 397.29L254.73 398.96L256.26 400.46L257.89 401.71L259.69 402.76L261.66 403.62L263.84 404.31L266.29 404.85L268.74 405.22L271.52 405.49L278.77 405.84L289.18 405.97L311.25 406L268.47 405.97L262.42 405.86L258.44 405.61L256.42 405.35L254.71 404.98L253.21 404.48L251.9 403.87L250.7 403.08L249.61 402.12L248.63 400.98L247.7 399.6L246.56 397.37L245.52 394.68L244.54 391.37L243.67 387.62L242.85 383.24L242.09 378.21L241.38 372.55L240.67 365.74L239.42 350.11L238.27 330.59L237.24 307.12L236.31 280L235.22 406L207.16 405.93L202.03 405.72L198.49 405.29L196.75 404.88L195.27 404.36L193.97 403.69L192.77 402.84L191.68 401.8L190.7 400.57L189.77 399.08L188.95 397.43L187.97 394.92L187.04 391.88L186.17 388.27L185.41 384.35L184.7 379.94L183.99 374.63L182.74 362.45L181.59 347.25L180.5 327.86L179.58 306.42L178.68 280L177.59 406L149.93 405.92L144.86 405.71L141.32 405.28L139.63 404.88L138.16 404.35L136.85 403.68L135.65 402.82L134.56 401.77L133.58 400.53L132.65 399.03L131.84 397.37L130.86 394.84L129.93 391.78L129.06 388.14L128.29 384.19L127.59 379.75L126.88 374.4L125.62 362.14L124.48 346.83L123.44 328.41L122.46 305.7L121.59 280L120.5 406L99.46 405.97L91.72 405.8L88.84 405.57L86.55 405.22L84.64 404.72L83 404.04L81.97 403.43L81.04 402.73L80.17 401.89L79.41 400.98L77.99 398.73L76.68 395.76L75.54 392.18L74.45 387.62L73.47 382.24L72.59 376.16L71.72 368.51L70.96 360.22L70.25 350.9L69.54 339.67L68.23 312.61L67.09 280L66 406L55.1 406 Z" fill="#1400ff" fill-opacity="0.25"/>
<path d="M55.1 406L66 406L67.09 280L68.18 303.76L69.38 324.76L70.63 342.12L72.05 357.31L73.58 369.66L74.39 374.94L75.27 379.72L76.14 383.76L77.12 387.58L78.15 390.89L79.24 393.74L80.28 395.95L81.37 397.85L82.51 399.45L83.77 400.85L85.13 402.03L86.6 403.01L88.24 403.81L90.03 404.45L91.89 404.91L93.96 405.27L99.25 405.74L106.66 405.94L120.5 406L121.59 280L123.06 310.97L124.64 335.81L125.51 346.62L126.39 355.76L127.37 364.38L128.4 371.87L129.49 378.31L130.64 383.76L131.89 388.51L133.25 392.53L134.78 395.95L136.41 398.65L137.29 399.79L138.27 400.85L139.25 401.73L140.34 402.54L142.35 403.65L144.64 404.48L147.31 405.09L150.58 405.51L154.29 405.76L159.2 405.91L177.59 406L178.68 280L179.8 304.29L181 325.18L182.3 343.11L183.72 358.07L185.25 370.23L186.12 375.74L186.99 380.4L187.92 384.56L188.9 388.24L189.99 391.59L191.13 394.43L192.17 396.51L193.26 398.3L194.46 399.88L195.76 401.24L197.13 402.33L198.65 403.26L200.34 404.02L202.25 404.63L204.16 405.05L206.34 405.37L211.9 405.78L219.74 405.95L235.22 406L236.31 280L237.51 305.88L238.82 328.08L240.24 346.62L241.82 362.14L242.69 368.9L243.56 374.61L244.49 379.72L245.47 384.22L246.5 388.15L247.65 391.66L248.9 394.73L250.21 397.23L251.35 398.96L252.61 400.46L253.92 401.69L255.39 402.75L256.97 403.6L258.77 404.3L260.73 404.83L263.02 405.25L267.81 405.7L274.63 405.92L311.25 406L269.61 405.97L263.4 405.84L259.26 405.57L257.19 405.28L255.44 404.88L253.86 404.35L252.5 403.69L251.25 402.85L250.1 401.83L249.07 400.61L248.14 399.22L246.99 397.01L245.9 394.23L244.92 391L244 387.14L243.12 382.6L242.36 377.74L241.6 371.88L240.89 365.35L239.58 349.84L238.38 330.47L237.29 307.12L236.31 280L235.22 406L207.97 405.91L202.8 405.67L199.14 405.2L197.4 404.77L195.87 404.2L194.51 403.48L193.31 402.61L192.22 401.57L191.19 400.27L190.21 398.7L189.33 396.95L188.3 394.3L187.37 391.3L186.5 387.76L185.68 383.68L184.92 379.04L184.21 373.89L182.9 361.63L181.7 346.33L180.61 327.89L179.63 306.46L178.68 280L177.59 406L154.73 405.96L146.5 405.73L143.44 405.43L140.99 404.96L138.92 404.26L137.18 403.32L136.25 402.64L135.38 401.83L134.56 400.89L133.8 399.83L132.44 397.36L131.18 394.23L130.04 390.38L129 385.82L128.02 380.29L127.15 374.1L126.28 366.43L125.51 358.22L124.75 348.31L124.04 337.27L122.73 311.04L121.59 280L120.5 406L95.65 405.89L90.63 405.63L87.09 405.1L85.4 404.64L83.93 404.04L82.62 403.29L81.42 402.35L80.33 401.22L79.35 399.91L78.43 398.35L77.55 396.51L76.57 393.9L75.65 390.79L74.77 387.14L74.01 383.22L73.25 378.49L72.54 373.23L71.23 360.73L70.09 345.93L69 327.36L68.02 305.78L67.09 280L66 406L55.1 406 Z" fill="#1400ff" fill-opacity="0.5"/>
<path d="M177.62 402.85L178.68 280L180.01 312.37L180.72 326.02L181.49 338.51L182.3 349.73L183.12 359.08L184.05 367.82L185.03 375.3L186.06 381.62L187.15 386.87L188.35 391.35L189.66 395.04L191.13 398.1L191.95 399.42L192.77 400.51L193.64 401.48L194.62 402.36L195.66 403.11L196.75 403.73" fill="none" stroke="#1400ff" stroke-width="1.5" stroke-linejoin="round"/>
<path d="M196.85 403.79L198.54 404.48L200.45 405.01L202.69 405.4L205.3 405.66L212.28 405.93L226.28 406" fill="none" stroke="#1400ff" stroke-width="1.5" stroke-linejoin="round"/>
<path d="M226.83 406L235.22 406L236.31 280L237.62 311.8L239.04 337.27L239.85 348.69L240.67 358.22L241.54 366.64L242.47 373.97L243.45 380.25L244.54 385.79L245.69 390.33L246.99 394.29L248.41 397.45L249.94 399.91L250.75 400.93L251.68 401.87L252.66 402.68L253.7 403.36" fill="none" stroke="#1400ff" stroke-width="1.5" stroke-linejoin="round"/>
<path d="M253.86 403.46L255.55 404.25L257.46 404.86L259.69 405.3L262.36 405.62L269.39 405.92L283.62 406" fill="none" stroke="#1400ff" stroke-width="1.5" stroke-linejoin="round"/>
<path d="M284.33 406L306.13 406" fill="none" stroke="#1400ff" stroke-width="1.5" stroke-linejoin="round"/>
<path d="M55.1 406L66 406L67.09 280L67.96 296.09L68.89 310.93L69.87 324.47L70.85 336.08L71.89 346.55L73.03 356.31L74.23 364.82L75.54 372.44L76.9 378.89L78.32 384.29L79.9 389.05L81.59 392.99L83.44 396.27L84.42 397.65L85.51 398.96L86.6 400.07L87.8 401.08L89.05 401.96L90.42 402.74L92.49 403.64L94.78 404.35L97.39 404.91L100.39 405.32L103.82 405.6L108.02 405.79L120.5 405.97L121.59 279.98L123.28 309.28L124.21 322.34L125.19 334.26L126.17 344.47L127.26 354.13L128.4 362.64L129.6 370.07L130.86 376.47L132.22 382.15L133.69 387.06L135.27 391.21L136.96 394.65L138.87 397.58L139.85 398.78L140.94 399.91L142.08 400.91L143.28 401.78L145.46 403L147.91 403.96L150.75 404.69L154.07 405.22L157.83 405.57L162.57 405.79L177.59 405.98L178.68 379.52L179.74 383.58L180.83 387.1L181.98 390.2L183.23 393.02L184.54 395.42L185.95 397.53L187.48 399.33L189.17 400.88L190.81 402.04L192.55 402.98L194.51 403.78L196.66 404.42L197.75 390.81L198.76 393.03L199.8 394.97L200.94 396.78L202.14 398.36L203.39 399.72L204.76 400.93L206.23 401.97L207.84 402.87L208.93 375.64L210.48 382.2L212.11 387.57L213.91 392.1L214.89 394.08L215.88 395.78L216.91 397.31L218.06 398.73L219.25 399.98L220.56 401.09L221.92 402.04L223.4 402.85L225.03 403.56L226.78 404.15L227.87 343.96L229.45 357.56L231.19 369.14L232.12 374.12L233.1 378.66L234.13 382.75L235.22 386.4L236.31 363.02L237.57 370.68L238.87 377.22L240.29 382.95L241.82 387.85L243.45 391.95L245.25 395.4L246.23 396.91L247.21 398.2L248.3 399.43L249.45 400.51L251.41 401.96L253.62 403.14L254.71 389.73L255.77 392.22L256.86 394.39L258 396.29L259.26 398.02L260.57 399.5L261.98 400.79L263.51 401.9L265.2 402.85L266.29 375.63L267.81 382.08L269.5 387.64L271.3 392.15L272.28 394.12L273.32 395.9L274.35 397.41L275.5 398.82L276.7 400.05L278 401.15L279.42 402.12L280.89 402.92L282.53 403.61L284.27 404.18L285.36 343.99L286.29 352.37L287.27 360L288.25 366.56L289.34 372.75L290.49 378.2L291.68 382.96L292.99 387.23L294.41 390.97L295.88 394.06L297.46 396.68L299.15 398.85L301.06 400.69L303.13 402.16L305.47 403.34L308.14 404.25L311.25 404.92L311.25 405.93L307.87 405.83L305.04 405.65L302.8 405.37L300.9 404.96L299.26 404.4L298.22 403.9L297.24 403.29L296.37 402.6L295.55 401.78L294.79 400.85L294.03 399.72L292.72 397.15L291.47 393.72L290.38 389.66L289.4 384.88L288.47 379.09L287.6 372.19L286.83 364.72L286.07 355.59L285.36 345.33L284.27 405.74L281.93 405.53L279.97 405.21L278.28 404.77L276.81 404.19L275.5 403.45L274.3 402.51L273.21 401.36L272.23 400L271.3 398.35L270.43 396.39L269.67 394.27L268.9 391.68L267.54 385.54L266.29 377.6L265.2 405.09L263.24 404.48L261.6 403.67L260.13 402.58L258.82 401.19L257.68 399.5L256.59 397.36L255.61 394.83L254.71 391.87L253.62 405.64L250.43 405.18L247.98 404.43L246.89 403.92L245.9 403.31L244.98 402.57L244.16 401.75L242.85 400.02L241.65 397.81L240.56 395.11L239.58 391.93L238.66 388.06L237.84 383.79L237.08 378.88L236.31 372.89L235.22 397.15L233.97 393.71L232.88 389.66L231.9 384.88L230.97 379.08L230.1 372.18L229.34 364.71L228.57 355.59L227.87 345.32L226.78 405.73L224.43 405.51L222.47 405.18L220.83 404.74L219.36 404.14L218.06 403.39L216.86 402.42L215.82 401.31L214.84 399.94L213.91 398.28L213.04 396.3L212.28 394.15L211.51 391.54L210.15 385.34L208.93 377.53L207.84 405L206.01 404.38L204.43 403.55L203.01 402.45L201.76 401.08L200.62 399.36L199.58 397.29L198.65 394.9L197.75 391.96L196.66 405.76L193.26 405.42L190.59 404.83L188.41 403.92L187.48 403.36L186.61 402.68L185.25 401.25L184.05 399.51L182.96 397.36L181.98 394.83L181.05 391.77L180.23 388.38L179.41 384.17L178.68 379.54L177.59 406L153.75 405.97L145.62 405.77L142.63 405.49L140.23 405.04L138.21 404.37L136.52 403.47L135.6 402.77L134.78 402L133.25 400.04L131.94 397.61L130.75 394.52L129.66 390.73L128.68 386.26L127.75 380.85L126.88 374.4L126.06 366.87L125.3 358.22L124.59 348.49L123.93 337.76L122.68 311.27L121.59 280L120.5 406L99.46 405.97L91.72 405.8L88.84 405.57L86.55 405.22L84.64 404.72L83 404.04L81.97 403.43L81.04 402.73L80.17 401.89L79.41 400.98L77.99 398.73L76.68 395.76L75.54 392.18L74.45 387.62L73.47 382.24L72.59 376.16L71.72 368.51L70.96 360.22L70.25 350.9L69.54 339.67L68.23 312.61L67.09 280L66 406L55.1 406 Z" fill="#d28e0d" fill-opacity="0.25"/>
<path d="M55.1 406L66 406L67.09 280L68.62 311.96L69.43 325.6L70.25 337.27L71.12 347.85L72.1 357.82L73.14 366.5L74.23 373.95L75.37 380.26L76.63 385.76L77.94 390.25L79.41 394.12L80.99 397.23L81.86 398.58L82.79 399.79L83.77 400.85L84.8 401.78L85.95 402.61L87.15 403.31L89.05 404.13L91.29 404.78L93.85 405.25L96.85 405.58L100.34 405.79L104.8 405.91L120.5 406L121.59 280L123.06 310.97L124.64 335.81L125.51 346.62L126.39 355.76L127.37 364.38L128.4 371.87L129.49 378.31L130.64 383.76L131.89 388.51L133.25 392.53L134.78 395.95L136.41 398.65L137.29 399.79L138.27 400.85L139.25 401.73L140.34 402.54L142.35 403.65L144.64 404.48L147.31 405.09L150.58 405.51L154.29 405.76L159.2 405.91L177.59 406L178.68 379.54L179.58 383.73L180.56 387.55L181.59 390.87L182.68 393.72L183.88 396.24L185.14 398.33L186.55 400.15L188.08 401.64L189.82 402.88L191.79 403.86L194.02 404.6L196.66 405.16L197.75 391.46L198.71 393.89L199.74 396.07L200.83 397.94L202.03 399.6L203.29 400.96L204.65 402.12L206.17 403.11L207.84 403.9L208.93 376.57L210.32 383.46L211.9 389.35L212.71 391.77L213.59 393.96L214.51 395.92L215.49 397.65L216.53 399.15L217.67 400.5L218.87 401.63L220.18 402.6L221.6 403.41L223.12 404.07L224.87 404.62L226.78 405.04L227.87 344.74L229.39 360.28L230.26 367.32L231.13 373.27L232.06 378.6L233.04 383.3L234.08 387.39L235.22 391.05L236.31 367.41L237.4 374.69L238.55 380.86L239.8 386.23L241.11 390.62L242.58 394.4L244.22 397.52L245.09 398.83L246.01 399.99L246.99 401.02L248.03 401.92L249.28 402.79L250.59 403.5L252.01 404.1L253.62 404.6L254.71 391.01L255.71 393.64L256.75 395.87L257.89 397.86L259.09 399.53L260.4 400.97L261.87 402.21L263.45 403.2L265.2 403.99L266.29 376.65L267.7 383.63L269.29 389.48L270.16 392.02L271.03 394.18L271.96 396.1L272.94 397.8L273.97 399.27L275.12 400.6L276.32 401.71L277.62 402.66L279.04 403.46L280.62 404.12L282.37 404.65L284.27 405.07L285.36 344.76L286.23 354.19L287.11 362.17L288.03 369.3L289.01 375.59L290.05 381.07L291.19 385.98L292.45 390.26L293.76 393.75L295.12 396.57L296.64 398.96L298.33 400.91L300.24 402.47L302.37 403.65L304.82 404.53L307.71 405.16L311.25 405.57L311.25 405.9L307.49 405.74L304.6 405.48L301.6 404.9L300.35 404.5L299.21 404.01L297.3 402.82L295.66 401.24L294.19 399.15L292.88 396.53L291.63 393.09L290.54 389.1L289.5 384.18L288.58 378.56L287.71 371.96L286.89 364.34L286.13 355.7L285.36 345.26L284.27 405.66L281.98 405.41L280.08 405.05L278.44 404.58L276.97 403.96L275.66 403.19L274.46 402.22L273.37 401.05L272.39 399.69L271.41 397.95L270.54 396.02L269.72 393.79L268.96 391.25L268.25 388.43L267.54 385.07L266.29 377.47L265.2 404.94L263.29 404.3L261.66 403.45L260.18 402.33L258.88 400.92L257.68 399.17L256.59 397.06L255.61 394.61L254.71 391.78L253.62 405.53L250.59 405L248.14 404.17L247.1 403.64L246.12 402.99L245.2 402.22L244.38 401.37L243.02 399.51L241.82 397.28L240.73 394.58L239.69 391.25L238.77 387.46L237.89 383L237.08 377.85L236.31 372.01L235.22 396.14L234.02 392.74L232.93 388.64L231.95 383.88L231.03 378.19L230.15 371.5L229.34 363.77L228.57 355.01L227.87 345.25L226.78 405.65L224.54 405.4L222.63 405.03L221 404.55L219.53 403.92L218.22 403.12L217.07 402.18L215.98 401L215 399.63L214.02 397.88L213.15 395.93L212.33 393.67L211.57 391.11L210.86 388.26L210.15 384.87L208.93 377.39L207.84 404.83L206.06 404.19L204.48 403.33L203.07 402.21L201.81 400.83L200.67 399.14L199.63 397.14L198.65 394.71L197.75 391.9L196.66 405.69L193.37 405.3L190.81 404.68L188.68 403.76L187.7 403.15L186.83 402.47L185.46 401.05L184.21 399.26L183.12 397.17L182.09 394.6L181.16 391.66L180.29 388.22L179.47 384.23L178.68 379.54L177.59 406L154.73 405.96L146.5 405.73L143.44 405.43L140.99 404.96L138.92 404.26L137.18 403.32L136.25 402.64L135.38 401.83L134.56 400.89L133.8 399.83L132.44 397.36L131.18 394.23L130.04 390.38L129 385.82L128.02 380.29L127.15 374.1L126.28 366.43L125.51 358.22L124.75 348.31L124.04 337.27L122.73 311.04L121.59 280L120.5 406L100.44 405.97L92.65 405.77L89.71 405.53L87.36 405.16L85.4 404.64L83.71 403.93L82.68 403.32L81.7 402.59L80.77 401.71L79.95 400.75L79.19 399.66L78.43 398.35L77.12 395.43L75.92 391.78L74.83 387.39L73.79 381.96L72.87 375.77L72 368.51L71.18 360.11L70.41 350.59L69.65 339.09L68.29 312.31L67.09 280L66 406L55.1 406 Z" fill="#d28e0d" fill-opacity="0.5"/>
<path d="M55.1 406L66 406L67.09 280L68.4 311.8L69.11 325.54L69.87 338.1L70.69 349.38L71.5 358.8L72.43 367.59L73.41 375.12L74.45 381.47L75.54 386.75L76.74 391.26L78.04 394.98L79.46 397.96L80.28 399.29L81.1 400.41L81.97 401.39L82.95 402.3L83.98 403.06L85.08 403.69L86.87 404.45L88.94 405.02L91.4 405.43L94.34 405.71L102.3 405.95L120.5 406L121.59 280L122.84 310.66L124.26 336.43L125.02 347.29L125.84 357.05L126.71 365.68L127.64 373.19L128.62 379.62L129.66 385.05L130.8 389.75L132 393.56L133.36 396.81L134.83 399.38L135.65 400.48L136.52 401.45L137.45 402.3L138.43 403.02L140.28 404.03L142.46 404.79L145.03 405.31L148.19 405.66L151.78 405.85L156.63 405.95L177.59 406L178.68 379.54L179.52 384.07L180.4 387.94L181.32 391.3L182.36 394.32L183.45 396.84L184.65 398.98L185.95 400.75L187.37 402.17L189.17 403.43L191.24 404.38L193.69 405.06L196.66 405.52L197.75 391.76L198.65 394.34L199.63 396.63L200.72 398.64L201.87 400.3L203.12 401.68L204.54 402.85L206.06 403.76L207.84 404.49L208.93 377.09L210.26 384.52L211.73 390.52L212.55 393.09L213.37 395.24L214.24 397.13L215.22 398.87L216.2 400.27L217.29 401.5L218.49 402.56L219.8 403.42L221.22 404.12L222.85 404.69L224.65 405.12L226.78 405.45L227.87 345.09L229.34 362.09L230.15 369.39L231.03 375.85L231.95 381.46L232.99 386.51L234.08 390.7L235.22 394.14L236.31 370.23L237.29 377.25L238.33 383.16L239.47 388.29L240.67 392.44L242.04 395.98L243.51 398.78L245.14 400.98L246.07 401.92L247.05 402.72L248.41 403.57L249.94 404.27L251.63 404.81L253.62 405.24L254.71 391.54L255.66 394.31L256.7 396.71L257.79 398.71L258.98 400.42L260.29 401.83L261.76 402.99L263.4 403.91L265.2 404.6L266.29 377.18L267.6 384.45L269.07 390.47L269.88 393.05L270.7 395.2L271.63 397.21L272.61 398.94L273.65 400.39L274.74 401.6L275.93 402.63L277.24 403.48L278.66 404.16L280.29 404.72L282.15 405.15L284.27 405.47L285.36 345.11L286.13 354.61L286.94 363.15L287.82 370.71L288.74 377.28L289.72 382.91L290.81 387.88L291.96 391.95L293.27 395.5L294.57 398.15L296.04 400.34L297.68 402.07L299.59 403.43L301.71 404.4L304.22 405.08L307.27 405.53L311.25 405.81" fill="none" stroke="#e18f28" stroke-width="1.5" stroke-linejoin="round"/>
<path d="M395.8 406L407.25 406L408.34 280L408.88 310.34L409.43 333.37L410.08 353.82L410.79 369.53L411.55 381.2L412.48 390.47L413.02 394.21L413.57 397.05L414.17 399.39L414.88 401.38L415.91 403.26L416.51 403.98L417.22 404.59L417.98 405.04L418.85 405.38L421.14 405.81L423.43 405.94L427.14 405.99L461.75 406L462.84 280L463.43 312.94L464.14 340.95L464.96 362.97L465.89 379.06L466.38 384.98L466.92 390.04L467.52 394.21L468.18 397.53L468.94 400.24L469.76 402.19L470.74 403.68L471.88 404.7L472.92 405.23L474.23 405.6L475.86 405.83L478.15 405.95L518.83 406L519.92 280L520.44 309.01L521.04 334.37L521.7 354.53L522.4 370.02L523.22 382.2L524.15 391.1L524.69 394.69L525.24 397.41L525.84 399.66L526.55 401.57L527.09 402.63L527.64 403.44L528.24 404.11L528.94 404.68L529.71 405.1L530.63 405.44L532.92 405.82L539.03 405.99L576.47 406L577.56 280L578.1 310.34L578.7 335.35L579.41 356.62L580.17 372.42L581.05 384.39L581.54 389.13L582.03 392.84L582.57 396.01L583.23 398.82L583.93 400.98L584.75 402.68L585.3 403.48L585.9 404.14L586.55 404.66L587.31 405.09L589.11 405.63L591.73 405.9L598.49 406L651.95 406L584.21 405.99L582.84 405.92L581.97 405.73L581.37 405.37L580.88 404.76L580.45 403.73L580.12 402.42L579.79 400.36L579.52 397.76L579.03 389.71L578.65 378.31L578.32 362.37L578.05 342.28L577.56 280L576.47 406L526.16 405.98L524.91 405.88L524.09 405.62L523.49 405.12L523.06 404.38L522.68 403.25L522.35 401.67L521.8 396.77L521.37 389.08L520.99 377.24L520.66 360.69L520.39 339.82L519.92 280L518.83 406L469.05 405.98L467.79 405.87L466.98 405.6L466.38 405.08L465.94 404.32L465.56 403.15L465.23 401.51L464.69 396.41L464.25 388.42L463.87 376.13L463.54 358.94L463.27 337.27L462.84 280L461.75 406L414.98 405.99L412.97 405.8L412.37 405.54L411.93 405.15L411.44 404.32L411.06 403.15L410.73 401.51L410.41 398.92L409.92 392L409.48 380.33L409.15 365.56L408.83 342.28L408.34 280L407.25 406L395.8 406 Z" fill="#1400ff" fill-opacity="0.25"/>
<path d="M395.8 406L407.25 406L408.34 280L408.77 319.22L409.21 346.24L409.7 366.72L410.3 382.48L411.01 393.17L411.44 397.16L411.88 399.91L412.37 402L412.97 403.6L413.68 404.69L414.6 405.41L415.31 405.68L416.18 405.85L418.91 405.99L461.75 406L462.84 280L463.54 337.27L463.98 358.66L464.42 373.4L464.96 385.55L465.61 394.31L466 397.57L466.38 399.91L466.81 401.81L467.36 403.37L468.07 404.57L468.94 405.32L470.08 405.74L471.77 405.94L518.83 406L519.92 280L520.66 338.85L521.1 359.76L521.53 374.15L522.08 386.02L522.73 394.58L523.11 397.76L523.49 400.05L523.93 401.91L524.47 403.43L525.18 404.6L526.06 405.34L527.2 405.75L528.89 405.94L576.47 406L577.56 280L577.94 315.08L578.32 340.4L578.76 360.82L579.25 376.3L579.79 387.37L580.5 395.84L580.88 398.67L581.32 400.95L581.81 402.68L582.41 404.01L583.17 404.96L584.1 405.53L585.35 405.84L587.2 405.97L651.95 406L584.81 405.98L583.33 405.9L582.41 405.69L581.75 405.29L581.21 404.62L580.77 403.63L580.39 402.2L580.06 400.31L579.74 397.48L579.25 390.38L578.81 379.23L578.43 363.1L578.1 341.74L577.56 280L576.47 406L526.76 405.97L525.4 405.86L524.53 405.57L523.88 405.04L523.38 404.25L522.95 403L522.57 401.19L521.97 395.92L521.48 387.51L521.1 376.38L520.77 361.63L520.44 339.54L519.92 280L518.83 406L469.65 405.97L468.29 405.85L467.41 405.56L466.76 405.01L466.27 404.19L465.83 402.9L465.51 401.35L464.91 396.25L464.42 388.12L464.03 377.36L463.71 363.1L463.38 341.74L462.84 280L461.75 406L415.64 405.98L414.33 405.92L413.46 405.78L412.8 405.5L412.31 405.08L411.77 404.19L411.33 402.9L410.95 401.03L410.62 398.55L410.08 391.39L409.64 380.97L409.21 363.1L408.88 341.74L408.34 280L407.25 406L395.8 406 Z" fill="#1400ff" fill-opacity="0.5"/>
<path d="M518.86 402.85L519.92 280L520.55 343.24L520.93 364.94L521.37 380.71L521.86 391.35L522.51 398.92L522.89 401.37L523.33 403.15L523.82 404.35L524.47 405.2" fill="none" stroke="#1400ff" stroke-width="1.5" stroke-linejoin="round"/>
<path d="M537.99 406L541.81 406" fill="none" stroke="#1400ff" stroke-width="1.5" stroke-linejoin="round"/>
<path d="M549.11 406L553.58 406" fill="none" stroke="#1400ff" stroke-width="1.5" stroke-linejoin="round"/>
<path d="M568.07 406L573.25 406" fill="none" stroke="#1400ff" stroke-width="1.5" stroke-linejoin="round"/>
<path d="M576.52 399.7L577.56 280L578.21 345.11L578.59 366.16L579.03 381.47L579.52 391.78L580.17 399.13L580.56 401.51L580.99 403.23L581.48 404.4L582.14 405.22" fill="none" stroke="#1400ff" stroke-width="1.5" stroke-linejoin="round"/>
<path d="M594.94 406L598.76 406" fill="none" stroke="#1400ff" stroke-width="1.5" stroke-linejoin="round"/>
<path d="M606.5 406L610.97 406" fill="none" stroke="#1400ff" stroke-width="1.5" stroke-linejoin="round"/>
<path d="M625.57 406L630.75 406" fill="none" stroke="#1400ff" stroke-width="1.5" stroke-linejoin="round"/>
<path d="M395.8 406L407.25 406L408.34 280L408.99 315.47L409.7 342.72L410.51 364.14L411.44 379.79L411.99 386.1L412.53 390.89L413.13 394.84L413.84 398.2L414.6 400.7L415.53 402.68L416.56 404.03L417.16 404.55L417.87 404.98L418.91 405.4L420.22 405.69L423.98 405.95L461.75 406L462.84 280L463.43 312.94L464.14 340.95L464.96 362.97L465.89 379.06L466.38 384.98L466.92 390.04L467.52 394.21L468.18 397.53L468.94 400.24L469.76 402.19L470.74 403.68L471.88 404.7L472.92 405.23L474.23 405.6L475.86 405.83L478.15 405.95L518.83 406L519.92 379.54L520.88 389.66L521.42 393.6L522.02 396.84L522.68 399.42L523.44 401.52L524.26 403.04L525.24 404.2L525.95 404.74L526.76 405.17L527.74 405.49L528.89 405.72L531.89 405.94L537.91 406L539 392.14L539.68 396.18L540.39 399.13L541.26 401.58L542.24 403.31L543.39 404.49L544.75 405.24L546.55 405.69L549.08 405.92L550.17 378.23L551.02 387.88L551.94 394.66L552.49 397.39L553.09 399.64L553.74 401.43L554.5 402.89L555.27 403.89L556.14 404.64L557.12 405.17L558.32 405.55L559.68 405.77L561.48 405.91L568.02 406L569.11 345.52L569.65 360.08L570.2 371.14L570.85 380.95L571.56 388.49L572.38 394.42L573.31 398.75L573.85 400.5L574.4 401.82L575.05 403L575.76 403.9L576.47 404.53L577.56 378.69L578.48 388.91L579.03 393.02L579.63 396.41L580.28 399.11L581.05 401.32L581.86 402.9L582.84 404.11L583.55 404.68L584.37 405.13L585.3 405.45L586.44 405.69L589.33 405.93L594.86 406L595.95 392.14L596.63 396.18L597.4 399.32L598.27 401.7L599.25 403.38L600.39 404.53L601.1 404.97L601.86 405.3L603.72 405.73L606.44 405.93L607.53 378.24L608.35 387.64L609.33 394.82L609.88 397.51L610.48 399.73L611.13 401.49L611.89 402.94L612.66 403.92L613.53 404.66L614.51 405.18L615.71 405.55L617.07 405.78L618.87 405.91L625.52 406L626.61 345.52L627.53 368.14L628.08 377.25L628.62 384.17L629.22 389.88L629.93 394.73L630.75 398.55L631.68 401.33L632.55 403L633.53 404.17L634.73 405L636.25 405.54L637.94 405.8L640.34 405.94L651.95 406L631.68 405.95L630.75 405.81L630.1 405.53L629.61 405.06L629.17 404.28L628.62 402.33L628.19 399.28L627.86 395.41L627.53 389.32L627.04 373.01L626.61 345.52L625.52 406L612.06 405.95L611.29 405.85L610.69 405.66L610.2 405.32L609.82 404.85L609.39 403.89L609 402.42L608.68 400.35L608.4 397.75L607.91 389.69L607.53 378.28L606.44 406L599.68 405.92L598.59 405.65L597.89 405.06L597.56 404.52L597.23 403.66L596.69 401.02L596.31 397.53L595.95 392.14L594.86 406L582.41 405.97L581.05 405.79L580.23 405.35L579.68 404.62L579.25 403.47L578.87 401.7L578.54 399.23L577.99 391.57L577.56 379.54L576.47 406L573.52 405.87L572.82 405.65L572.27 405.25L571.89 404.73L571.56 404L571.02 401.73L570.58 398.18L570.2 392.71L569.87 385.06L569.6 375.42L569.11 345.52L568.02 406L554.72 405.95L553.96 405.86L553.36 405.67L552.87 405.35L552.49 404.89L552 403.81L551.62 402.28L551.29 400.13L551.02 397.43L550.58 390.3L550.17 378.28L549.08 406L542.62 405.91L541.59 405.62L540.88 404.98L540.55 404.4L540.23 403.48L539.73 401.02L539.35 397.53L539 392.14L537.91 406L524.75 405.97L523.38 405.78L522.57 405.33L522.02 404.57L521.59 403.38L521.2 401.54L520.88 398.97L520.33 391.01L519.92 379.54L518.83 406L469.92 405.99L467.9 405.89L466.87 405.54L466.27 404.93L465.78 403.89L465.4 402.42L465.07 400.36L464.52 393.97L464.09 383.94L463.71 368.51L463.38 346.93L462.84 280L461.75 406L415.58 405.99L413.57 405.91L412.53 405.63L411.88 405.08L411.39 404.19L410.95 402.68L410.62 400.77L410.3 397.76L410.02 393.97L409.59 383.94L409.21 368.51L408.88 346.93L408.34 280L407.25 406L395.8 406 Z" fill="#d28e0d" fill-opacity="0.25"/>
<path d="M395.8 406L407.25 406L408.34 280L408.77 319.22L409.21 346.24L409.7 366.72L410.3 382.48L411.01 393.17L411.44 397.16L411.88 399.91L412.37 402L412.97 403.6L413.68 404.69L414.6 405.41L415.31 405.68L416.18 405.85L418.91 405.99L461.75 406L462.84 280L463.22 315.08L463.65 343.39L464.14 364.84L464.74 381.35L465.4 391.91L465.78 395.84L466.21 399L466.7 401.4L467.25 403.11L467.96 404.43L468.78 405.22L469.48 405.57L470.36 405.8L473.19 405.98L518.83 406L519.92 379.54L520.55 390.52L520.93 394.83L521.31 397.94L521.75 400.45L522.29 402.52L522.89 403.91L523.66 404.91L524.2 405.32L524.86 405.61L526.6 405.91L537.91 406L539 392.14L539.52 397.1L540.06 400.42L540.72 402.81L541.1 403.7L541.53 404.41L541.97 404.91L542.46 405.28L543.71 405.75L545.51 405.95L549.08 406L550.17 378.28L550.74 389.01L551.4 396.29L551.83 399.31L552.27 401.39L552.76 402.97L553.36 404.19L553.9 404.86L554.56 405.35L555.32 405.66L556.3 405.85L558.97 405.99L568.02 406L569.11 345.52L569.82 373.01L570.25 383.28L570.69 390.35L571.24 396.18L571.89 400.39L572.65 403.08L573.09 403.99L573.63 404.74L574.18 405.21L574.78 405.53L575.54 405.75L576.47 405.89L577.56 379.5L578.21 390.85L578.59 395.07L578.97 398.11L579.41 400.57L579.96 402.59L580.56 403.96L581.32 404.94L581.86 405.33L582.46 405.6L584.21 405.91L594.86 406L595.95 392.14L596.47 397.1L597.01 400.42L597.72 402.95L598.1 403.8L598.54 404.49L598.98 404.96L599.47 405.31L600.77 405.78L602.63 405.95L606.44 406L607.53 378.28L608.08 388.61L608.79 396.51L609.22 399.47L609.66 401.5L610.15 403.04L610.75 404.23L611.29 404.89L611.95 405.36L612.71 405.67L613.69 405.86L616.42 405.99L625.52 406L626.61 345.52L627.21 369.78L627.59 379.87L627.97 387.14L628.41 393.01L628.9 397.46L629.5 400.89L630.2 403.21L630.8 404.33L631.51 405.09L632.44 405.59L633.64 405.85L636.85 405.99L651.95 406L632.06 405.93L631.08 405.76L630.37 405.42L629.82 404.86L629.39 404.05L628.84 402.18L628.35 398.99L627.97 394.77L627.64 389.18L627.1 373.01L626.61 345.52L625.52 406L612.44 405.94L611.62 405.82L610.97 405.6L610.48 405.27L610.04 404.75L609.55 403.71L609.11 402.07L608.79 400.11L608.46 397.18L607.97 389.83L607.53 378.28L606.44 406L601.65 405.99L599.96 405.9L598.81 405.6L598.05 404.96L597.67 404.34L597.34 403.51L596.8 401.12L596.36 397.64L595.95 392.14L594.86 406L582.79 405.96L581.37 405.76L580.88 405.56L580.45 405.25L579.85 404.44L579.36 403.13L578.92 401.09L578.59 398.64L578.05 391.57L577.56 379.54L576.47 405.99L573.85 405.83L573.09 405.56L572.54 405.13L572.11 404.51L571.78 403.77L571.18 401.32L570.69 397.42L570.31 392.25L569.98 385.41L569.65 375.16L569.11 345.52L568.02 406L555.05 405.93L554.23 405.82L553.58 405.59L553.09 405.24L552.65 404.71L552.16 403.63L551.78 402.2L551.45 400.3L551.12 397.47L550.58 389.27L550.17 378.28L549.08 406L544.53 405.99L542.9 405.89L541.81 405.57L541.04 404.89L540.66 404.22L540.33 403.34L539.79 400.78L539.35 397.05L539 392.14L537.91 406L525.18 405.96L523.77 405.77L523.28 405.58L522.84 405.28L522.24 404.49L521.75 403.23L521.31 401.25L520.99 398.88L520.39 391.07L519.92 379.54L518.83 406L470.63 405.99L468.39 405.87L467.74 405.71L467.25 405.46L466.6 404.79L466.11 403.78L465.67 402.2L465.29 399.91L464.69 393.23L464.2 382.6L463.76 365.9L463.43 345.93L462.84 280L461.75 406L416.29 405.99L414.11 405.9L412.97 405.59L412.26 405.01L411.71 404.06L411.28 402.68L410.9 400.68L410.57 398.03L410.24 394.07L409.75 384.12L409.32 368.51L408.93 345.93L408.34 280L407.25 406L395.8 406 Z" fill="#d28e0d" fill-opacity="0.5"/>
<path d="M395.8 406L407.25 406L408.34 280L408.99 345.11L409.37 366.16L409.86 382.91L410.41 393.41L410.73 397.25L411.11 400.27L411.5 402.25L411.99 403.83L412.59 404.88L413.35 405.52L414.6 405.88L416.95 405.99L461.75 406L462.84 280L463.49 345.11L463.87 366.16L464.36 382.91L464.91 393.41L465.56 399.91L465.94 402.02L466.43 403.69L466.98 404.74L467.63 405.39L468.18 405.67L468.88 405.85L471.28 405.99L518.83 406L519.92 379.54L520.44 391.12L521.1 398.81L521.48 401.3L521.91 403.1L522.4 404.32L523.06 405.19L523.49 405.5L524.04 405.73L525.56 405.95L537.91 406L539 392.14L539.41 397.2L539.84 400.58L540.44 403.22L540.77 404.07L541.15 404.74L541.53 405.17L541.97 405.49L543.11 405.86L544.8 405.98L549.08 406L550.17 378.28L550.63 389.44L551.18 396.97L551.51 399.72L551.89 401.89L552.32 403.47L552.87 404.62L553.31 405.15L553.85 405.54L554.5 405.78L555.43 405.92L568.02 406L569.11 345.52L569.71 374.95L570.04 384.41L570.42 391.88L570.85 397.3L571.34 400.96L572 403.56L572.38 404.41L572.82 405.02L573.36 405.46L574.07 405.76L575 405.91L576.47 405.98L577.56 379.53L578.05 390.66L578.7 398.59L579.08 401.15L579.52 403.01L580.01 404.27L580.66 405.16L581.1 405.48L581.64 405.72L583.17 405.95L594.86 406L595.95 392.14L596.36 397.2L596.85 400.9L597.45 403.38L597.78 404.18L598.16 404.81L598.54 405.22L598.98 405.52L600.17 405.87L601.92 405.98L606.44 406L607.53 378.28L608.02 389.93L608.57 397.24L608.89 399.91L609.28 402.01L609.71 403.55L610.2 404.58L610.64 405.12L611.18 405.52L611.84 405.77L612.76 405.92L615.16 405.99L625.52 406L626.61 345.52L627.1 370.95L627.7 388L628.08 394.23L628.52 398.75L629.01 401.8L629.61 403.84L630.1 404.75L630.7 405.36L631.46 405.73L632.49 405.91L635.27 406L651.95 406" fill="none" stroke="#e18f28" stroke-width="1.5" stroke-linejoin="round"/>
<line x1="169.4" y1="267.3" x2="169.4" y2="418.7" stroke="#ff0000" stroke-width="0.9" stroke-opacity="0.85" stroke-dasharray="1.8 1.2"/>
<line x1="292.3" y1="267.3" x2="292.3" y2="418.7" stroke="#ff0000" stroke-width="0.9" stroke-opacity="0.85" stroke-dasharray="3.6 0.9 0.7 0.9"/>
<rect x="42.5" y="267.5" width="282" height="151" fill="none" stroke="#333333" stroke-width="1.1"/>
<line x1="38.2" y1="406.5" x2="42" y2="406.5" stroke="#333333" stroke-width="1"/>
<text x="33.9" y="410.22" font-size="11.9" text-anchor="end" font-weight="normal" font-style="normal" fill="#111">0.0</text>
<line x1="38.2" y1="380.5" x2="42" y2="380.5" stroke="#333333" stroke-width="1"/>
<text x="33.9" y="385.02" font-size="11.9" text-anchor="end" font-weight="normal" font-style="normal" fill="#111">0.2</text>
<line x1="38.2" y1="355.5" x2="42" y2="355.5" stroke="#333333" stroke-width="1"/>
<text x="33.9" y="359.82" font-size="11.9" text-anchor="end" font-weight="normal" font-style="normal" fill="#111">0.4</text>
<line x1="38.2" y1="330.5" x2="42" y2="330.5" stroke="#333333" stroke-width="1"/>
<text x="33.9" y="334.62" font-size="11.9" text-anchor="end" font-weight="normal" font-style="normal" fill="#111">0.6</text>
<line x1="38.2" y1="305.5" x2="42" y2="305.5" stroke="#333333" stroke-width="1"/>
<text x="33.9" y="309.42" font-size="11.9" text-anchor="end" font-weight="normal" font-style="normal" fill="#111">0.8</text>
<line x1="38.2" y1="280.5" x2="42" y2="280.5" stroke="#333333" stroke-width="1"/>
<text x="33.9" y="284.22" font-size="11.9" text-anchor="end" font-weight="normal" font-style="normal" fill="#111">1.0</text>
<line x1="55.5" y1="418.7" x2="55.5" y2="422.5" stroke="#333333" stroke-width="1"/>
<text x="55.1" y="435.5" font-size="11.9" text-anchor="middle" font-weight="normal" font-style="normal" fill="#111">0</text>
<line x1="109.5" y1="418.7" x2="109.5" y2="422.5" stroke="#333333" stroke-width="1"/>
<text x="109.6" y="435.5" font-size="11.9" text-anchor="middle" font-weight="normal" font-style="normal" fill="#111">20</text>
<line x1="164.5" y1="418.7" x2="164.5" y2="422.5" stroke="#333333" stroke-width="1"/>
<text x="164.1" y="435.5" font-size="11.9" text-anchor="middle" font-weight="normal" font-style="normal" fill="#111">40</text>
<line x1="218.5" y1="418.7" x2="218.5" y2="422.5" stroke="#333333" stroke-width="1"/>
<text x="218.6" y="435.5" font-size="11.9" text-anchor="middle" font-weight="normal" font-style="normal" fill="#111">60</text>
<line x1="273.5" y1="418.7" x2="273.5" y2="422.5" stroke="#333333" stroke-width="1"/>
<text x="273.1" y="435.5" font-size="11.9" text-anchor="middle" font-weight="normal" font-style="normal" fill="#111">80</text>
<text x="183.15" y="450.1" font-size="11.8" text-anchor="middle" font-weight="normal" font-style="normal" fill="#111">Time (days)</text>
<text x="11.6" y="346.2" font-size="11.8" text-anchor="middle" font-weight="normal" font-style="normal" fill="#111" transform="rotate(-90 11.6 346.2)">Adriamycin (NU)</text>
<line x1="172.20000000000002" y1="412.6" x2="182.9" y2="412.6" stroke="#ff0000" stroke-width="1.6"/>
<path d="M181.6 409.5 L188.3 412.6 L181.6 415.70000000000005 Z" fill="#ff0000"/>
<text x="191.1" y="416.7" font-size="11.8" text-anchor="start" font-weight="normal" font-style="normal" fill="#ff0000">Prediction</text>
<text x="294.6" y="276.6" font-size="11.8" font-style="italic" fill="#ff0000">t<tspan font-size="8.6" dx="-0.9" dy="2.8">f</tspan></text>
<line x1="510.4" y1="267.3" x2="510.4" y2="418.7" stroke="#ff0000" stroke-width="0.9" stroke-opacity="0.85" stroke-dasharray="1.8 1.2"/>
<line x1="633.1" y1="267.3" x2="633.1" y2="418.7" stroke="#ff0000" stroke-width="0.9" stroke-opacity="0.85" stroke-dasharray="3.6 0.9 0.7 0.9"/>
<rect x="383.5" y="267.5" width="282" height="151" fill="none" stroke="#333333" stroke-width="1.1"/>
<line x1="379.5" y1="406.5" x2="383.3" y2="406.5" stroke="#333333" stroke-width="1"/>
<text x="375.2" y="410.22" font-size="11.9" text-anchor="end" font-weight="normal" font-style="normal" fill="#111">0.0</text>
<line x1="379.5" y1="380.5" x2="383.3" y2="380.5" stroke="#333333" stroke-width="1"/>
<text x="375.2" y="385.02" font-size="11.9" text-anchor="end" font-weight="normal" font-style="normal" fill="#111">0.2</text>
<line x1="379.5" y1="355.5" x2="383.3" y2="355.5" stroke="#333333" stroke-width="1"/>
<text x="375.2" y="359.82" font-size="11.9" text-anchor="end" font-weight="normal" font-style="normal" fill="#111">0.4</text>
<line x1="379.5" y1="330.5" x2="383.3" y2="330.5" stroke="#333333" stroke-width="1"/>
<text x="375.2" y="334.62" font-size="11.9" text-anchor="end" font-weight="normal" font-style="normal" fill="#111">0.6</text>
<line x1="379.5" y1="305.5" x2="383.3" y2="305.5" stroke="#333333" stroke-width="1"/>
<text x="375.2" y="309.42" font-size="11.9" text-anchor="end" font-weight="normal" font-style="normal" fill="#111">0.8</text>
<line x1="379.5" y1="280.5" x2="383.3" y2="280.5" stroke="#333333" stroke-width="1"/>
<text x="375.2" y="284.22" font-size="11.9" text-anchor="end" font-weight="normal" font-style="normal" fill="#111">1.0</text>
<line x1="395.5" y1="418.7" x2="395.5" y2="422.5" stroke="#333333" stroke-width="1"/>
<text x="395.8" y="435.5" font-size="11.9" text-anchor="middle" font-weight="normal" font-style="normal" fill="#111">0</text>
<line x1="450.5" y1="418.7" x2="450.5" y2="422.5" stroke="#333333" stroke-width="1"/>
<text x="450.3" y="435.5" font-size="11.9" text-anchor="middle" font-weight="normal" font-style="normal" fill="#111">20</text>
<line x1="504.5" y1="418.7" x2="504.5" y2="422.5" stroke="#333333" stroke-width="1"/>
<text x="504.8" y="435.5" font-size="11.9" text-anchor="middle" font-weight="normal" font-style="normal" fill="#111">40</text>
<line x1="559.5" y1="418.7" x2="559.5" y2="422.5" stroke="#333333" stroke-width="1"/>
<text x="559.3" y="435.5" font-size="11.9" text-anchor="middle" font-weight="normal" font-style="normal" fill="#111">60</text>
<line x1="613.5" y1="418.7" x2="613.5" y2="422.5" stroke="#333333" stroke-width="1"/>
<text x="613.8" y="435.5" font-size="11.9" text-anchor="middle" font-weight="normal" font-style="normal" fill="#111">80</text>
<text x="524.4" y="450.1" font-size="11.8" text-anchor="middle" font-weight="normal" font-style="normal" fill="#111">Time (days)</text>
<text x="352.8" y="341.8" font-size="11.8" text-anchor="middle" font-weight="normal" font-style="normal" fill="#111" transform="rotate(-90 352.8 341.8)">Cyclophosphamide (NU)</text>
<line x1="513.1999999999999" y1="412.6" x2="523.9" y2="412.6" stroke="#ff0000" stroke-width="1.6"/>
<path d="M522.6 409.5 L529.3 412.6 L522.6 415.70000000000005 Z" fill="#ff0000"/>
<text x="532.1" y="416.7" font-size="11.8" text-anchor="start" font-weight="normal" font-style="normal" fill="#ff0000">Prediction</text>
<text x="635.4" y="276.6" font-size="11.8" font-style="italic" fill="#ff0000">t<tspan font-size="8.6" dx="-0.9" dy="2.8">f</tspan></text>
<path d="M164.9 643 H173.45 V617.5 H164.9 Z M173.45 643 H181.99 V581.8 H173.45 Z M181.99 643 H190.54 V571.6 H181.99 Z M190.54 643 H199.09 V571.6 H190.54 Z M199.09 643 H207.63 V535.9 H199.09 Z M207.63 643 H216.18 V523.15 H207.63 Z M216.18 643 H224.73 V510.4 H216.18 Z M224.73 643 H233.27 V530.8 H224.73 Z M233.27 643 H241.82 V492.55 H233.27 Z M241.82 643 H250.37 V500.2 H241.82 Z M250.37 643 H258.91 V523.15 H250.37 Z M258.91 643 H267.46 V579.25 H258.91 Z M267.46 643 H276.01 V584.35 H267.46 Z M276.01 643 H284.55 V614.95 H276.01 Z M284.55 643 H293.1 V632.8 H284.55 Z" fill="#1400ff" fill-opacity="0.6"/>
<path d="M132.5 643 H140.41 V612.4 H132.5 Z M140.41 643 H148.31 V579.25 H140.41 Z M148.31 643 H156.22 V535.9 H148.31 Z M156.22 643 H164.13 V505.3 H156.22 Z M164.13 643 H172.03 V492.55 H164.13 Z M172.03 643 H179.94 V482.35 H172.03 Z M179.94 643 H187.85 V492.55 H179.94 Z M187.85 643 H195.75 V474.7 H187.85 Z M195.75 643 H203.66 V520.6 H195.75 Z M203.66 643 H211.57 V563.95 H203.66 Z M211.57 643 H219.47 V597.1 H211.57 Z M219.47 643 H227.38 V617.5 H219.47 Z M227.38 643 H235.29 V617.5 H227.38 Z M235.29 643 H243.19 V637.9 H235.29 Z M243.19 643 H251.1 V640.45 H243.19 Z" fill="#d28e0d" fill-opacity="0.64"/>
<rect x="124.5" y="466.5" width="177" height="177" fill="none" stroke="#333333" stroke-width="1.1"/>
<line x1="120.8" y1="643.5" x2="124.3" y2="643.5" stroke="#333333" stroke-width="1"/>
<text x="117.5" y="646.55" font-size="10" text-anchor="end" font-weight="normal" font-style="normal" fill="#111">0</text>
<line x1="120.8" y1="617.5" x2="124.3" y2="617.5" stroke="#333333" stroke-width="1"/>
<text x="117.5" y="621.05" font-size="10" text-anchor="end" font-weight="normal" font-style="normal" fill="#111">10</text>
<line x1="120.8" y1="592.5" x2="124.3" y2="592.5" stroke="#333333" stroke-width="1"/>
<text x="117.5" y="595.55" font-size="10" text-anchor="end" font-weight="normal" font-style="normal" fill="#111">20</text>
<line x1="120.8" y1="566.5" x2="124.3" y2="566.5" stroke="#333333" stroke-width="1"/>
<text x="117.5" y="570.05" font-size="10" text-anchor="end" font-weight="normal" font-style="normal" fill="#111">30</text>
<line x1="120.8" y1="541.5" x2="124.3" y2="541.5" stroke="#333333" stroke-width="1"/>
<text x="117.5" y="544.55" font-size="10" text-anchor="end" font-weight="normal" font-style="normal" fill="#111">40</text>
<line x1="120.8" y1="515.5" x2="124.3" y2="515.5" stroke="#333333" stroke-width="1"/>
<text x="117.5" y="519.05" font-size="10" text-anchor="end" font-weight="normal" font-style="normal" fill="#111">50</text>
<line x1="120.8" y1="490.5" x2="124.3" y2="490.5" stroke="#333333" stroke-width="1"/>
<text x="117.5" y="493.55" font-size="10" text-anchor="end" font-weight="normal" font-style="normal" fill="#111">60</text>
<line x1="148.5" y1="643" x2="148.5" y2="646.5" stroke="#333333" stroke-width="1"/>
<text x="148.3" y="656.2" font-size="10" text-anchor="middle" font-weight="normal" font-style="normal" fill="#111">2</text>
<line x1="184.5" y1="643" x2="184.5" y2="646.5" stroke="#333333" stroke-width="1"/>
<text x="184.15" y="656.2" font-size="10" text-anchor="middle" font-weight="normal" font-style="normal" fill="#111">3</text>
<line x1="220.5" y1="643" x2="220.5" y2="646.5" stroke="#333333" stroke-width="1"/>
<text x="220" y="656.2" font-size="10" text-anchor="middle" font-weight="normal" font-style="normal" fill="#111">4</text>
<line x1="255.5" y1="643" x2="255.5" y2="646.5" stroke="#333333" stroke-width="1"/>
<text x="255.85" y="656.2" font-size="10" text-anchor="middle" font-weight="normal" font-style="normal" fill="#111">5</text>
<line x1="291.5" y1="643" x2="291.5" y2="646.5" stroke="#333333" stroke-width="1"/>
<text x="291.7" y="656.2" font-size="10" text-anchor="middle" font-weight="normal" font-style="normal" fill="#111">6</text>
<text x="208.8" y="670.7" font-size="11.6" text-anchor="middle" font-weight="normal" font-style="normal" fill="#111">Final cell count</text>
<text x="301.5" y="669.8" font-size="10.2" text-anchor="end" font-weight="normal" font-style="normal" fill="#111">1e8</text>
<text x="100.1" y="552.8" font-size="11.6" text-anchor="middle" font-weight="normal" font-style="normal" fill="#111" transform="rotate(-90 100.1 552.8)">Number of observations</text>
<rect x="259.2" y="469.8" width="39" height="22.8" rx="1.8" fill="#fff" fill-opacity="0.8" stroke="#d8d8d8" stroke-width="0.8"/>
<rect x="262.1" y="472.9" width="14.6" height="5.1" fill="#1400ff" fill-opacity="0.6"/>
<rect x="262.1" y="482.9" width="14.6" height="5.1" fill="#d28e0d" fill-opacity="0.64"/>
<text x="282" y="478.4" font-size="8" text-anchor="start" font-weight="normal" font-style="normal" fill="#111">SOC</text>
<text x="282.8" y="488.2" font-size="8" text-anchor="start" font-weight="normal" font-style="normal" fill="#111">Opt.</text>
<path d="M448.8 644.5 H458.41 V611.87 H448.8 Z M458.41 644.5 H468.01 V596.81 H458.41 Z M468.01 644.5 H477.62 V589.28 H468.01 Z M477.62 644.5 H487.23 V594.3 H477.62 Z M487.23 644.5 H496.83 V554.14 H487.23 Z M496.83 644.5 H506.44 V534.06 H496.83 Z M506.44 644.5 H516.05 V531.55 H506.44 Z M516.05 644.5 H525.65 V544.1 H516.05 Z M525.65 644.5 H535.26 V529.04 H525.65 Z M535.26 644.5 H544.87 V496.41 H535.26 Z M544.87 644.5 H554.47 V506.45 H544.87 Z M554.47 644.5 H564.08 V536.57 H554.47 Z M564.08 644.5 H573.69 V579.24 H564.08 Z M573.69 644.5 H583.29 V584.26 H573.69 Z M583.29 644.5 H592.9 V624.42 H583.29 Z" fill="#1400ff" fill-opacity="0.6"/>
<path d="M432.5 644.5 H441.18 V624.42 H432.5 Z M441.18 644.5 H449.86 V581.75 H441.18 Z M449.86 644.5 H458.54 V569.2 H449.86 Z M458.54 644.5 H467.22 V561.67 H458.54 Z M467.22 644.5 H475.9 V521.51 H467.22 Z M475.9 644.5 H484.58 V524.02 H475.9 Z M484.58 644.5 H493.26 V526.53 H484.58 Z M493.26 644.5 H501.94 V524.02 H493.26 Z M501.94 644.5 H510.62 V476.33 H501.94 Z M510.62 644.5 H519.3 V506.45 H510.62 Z M519.3 644.5 H527.98 V551.63 H519.3 Z M527.98 644.5 H536.66 V579.24 H527.98 Z M536.66 644.5 H545.34 V601.83 H536.66 Z M545.34 644.5 H554.02 V624.42 H545.34 Z M554.02 644.5 H562.7 V639.48 H554.02 Z" fill="#d28e0d" fill-opacity="0.64"/>
<rect x="424.5" y="467.5" width="177" height="177" fill="none" stroke="#333333" stroke-width="1.1"/>
<line x1="420.8" y1="644.5" x2="424.3" y2="644.5" stroke="#333333" stroke-width="1"/>
<text x="417.5" y="648.05" font-size="10" text-anchor="end" font-weight="normal" font-style="normal" fill="#111">0</text>
<line x1="420.8" y1="619.5" x2="424.3" y2="619.5" stroke="#333333" stroke-width="1"/>
<text x="417.5" y="622.95" font-size="10" text-anchor="end" font-weight="normal" font-style="normal" fill="#111">10</text>
<line x1="420.8" y1="594.5" x2="424.3" y2="594.5" stroke="#333333" stroke-width="1"/>
<text x="417.5" y="597.85" font-size="10" text-anchor="end" font-weight="normal" font-style="normal" fill="#111">20</text>
<line x1="420.8" y1="569.5" x2="424.3" y2="569.5" stroke="#333333" stroke-width="1"/>
<text x="417.5" y="572.75" font-size="10" text-anchor="end" font-weight="normal" font-style="normal" fill="#111">30</text>
<line x1="420.8" y1="544.5" x2="424.3" y2="544.5" stroke="#333333" stroke-width="1"/>
<text x="417.5" y="547.65" font-size="10" text-anchor="end" font-weight="normal" font-style="normal" fill="#111">40</text>
<line x1="420.8" y1="519.5" x2="424.3" y2="519.5" stroke="#333333" stroke-width="1"/>
<text x="417.5" y="522.55" font-size="10" text-anchor="end" font-weight="normal" font-style="normal" fill="#111">50</text>
<line x1="420.8" y1="493.5" x2="424.3" y2="493.5" stroke="#333333" stroke-width="1"/>
<text x="417.5" y="497.45" font-size="10" text-anchor="end" font-weight="normal" font-style="normal" fill="#111">60</text>
<line x1="420.8" y1="468.5" x2="424.3" y2="468.5" stroke="#333333" stroke-width="1"/>
<text x="417.5" y="472.35" font-size="10" text-anchor="end" font-weight="normal" font-style="normal" fill="#111">70</text>
<line x1="458.5" y1="644.5" x2="458.5" y2="648" stroke="#333333" stroke-width="1"/>
<text x="458.8" y="657.7" font-size="10" text-anchor="middle" font-weight="normal" font-style="normal" fill="#111">4</text>
<line x1="510.5" y1="644.5" x2="510.5" y2="648" stroke="#333333" stroke-width="1"/>
<text x="510.85" y="657.7" font-size="10" text-anchor="middle" font-weight="normal" font-style="normal" fill="#111">5</text>
<line x1="562.5" y1="644.5" x2="562.5" y2="648" stroke="#333333" stroke-width="1"/>
<text x="562.9" y="657.7" font-size="10" text-anchor="middle" font-weight="normal" font-style="normal" fill="#111">6</text>
<text x="514.8" y="672.2" font-size="11.6" text-anchor="middle" font-weight="normal" font-style="normal" fill="#111">Max cell count</text>
<text x="601.5" y="671.3" font-size="10.2" text-anchor="end" font-weight="normal" font-style="normal" fill="#111">1e8</text>
<text x="400.1" y="553.5" font-size="11.6" text-anchor="middle" font-weight="normal" font-style="normal" fill="#111" transform="rotate(-90 400.1 553.5)">Number of observations</text>
<rect x="559.2" y="471.4" width="39" height="22.8" rx="1.8" fill="#fff" fill-opacity="0.8" stroke="#d8d8d8" stroke-width="0.8"/>
<rect x="562.1" y="474.5" width="14.6" height="5.1" fill="#1400ff" fill-opacity="0.6"/>
<rect x="562.1" y="484.5" width="14.6" height="5.1" fill="#d28e0d" fill-opacity="0.64"/>
<text x="582" y="480" font-size="8" text-anchor="start" font-weight="normal" font-style="normal" fill="#111">SOC</text>
<text x="582.8" y="489.8" font-size="8" text-anchor="start" font-weight="normal" font-style="normal" fill="#111">Opt.</text>
<rect x="43.1" y="713.3" width="76" height="168.2" fill="#1400ff"/>
<rect x="138.4" y="713.3" width="76" height="168.2" fill="#e18f28"/>
<rect x="34.5" y="704.5" width="189" height="177" fill="none" stroke="#333333" stroke-width="1.1"/>
<line x1="30.9" y1="881.5" x2="34.7" y2="881.5" stroke="#333333" stroke-width="1"/>
<text x="26.3" y="885.05" font-size="10" text-anchor="end" font-weight="normal" font-style="normal" fill="#111">0.0</text>
<line x1="30.9" y1="839.5" x2="34.7" y2="839.5" stroke="#333333" stroke-width="1"/>
<text x="26.3" y="843" font-size="10" text-anchor="end" font-weight="normal" font-style="normal" fill="#111">0.5</text>
<line x1="30.9" y1="797.5" x2="34.7" y2="797.5" stroke="#333333" stroke-width="1"/>
<text x="26.3" y="800.95" font-size="10" text-anchor="end" font-weight="normal" font-style="normal" fill="#111">1.0</text>
<line x1="30.9" y1="755.5" x2="34.7" y2="755.5" stroke="#333333" stroke-width="1"/>
<text x="26.3" y="758.9" font-size="10" text-anchor="end" font-weight="normal" font-style="normal" fill="#111">1.5</text>
<line x1="30.9" y1="713.5" x2="34.7" y2="713.5" stroke="#333333" stroke-width="1"/>
<text x="26.3" y="716.85" font-size="10" text-anchor="end" font-weight="normal" font-style="normal" fill="#111">2.0</text>
<line x1="81.5" y1="881.5" x2="81.5" y2="885.3" stroke="#333333" stroke-width="1"/>
<text x="81.1" y="897.6" font-size="9.3" text-anchor="middle" font-weight="normal" font-style="normal" fill="#111">SOC</text>
<line x1="176.5" y1="881.5" x2="176.5" y2="885.3" stroke="#333333" stroke-width="1"/>
<text x="176.4" y="897.6" font-size="9.3" text-anchor="middle" font-weight="normal" font-style="normal" fill="#111">Opt.</text>
<text x="128.8" y="909.4" font-size="10.4" text-anchor="middle" font-weight="normal" font-style="normal" fill="#111">Schedule</text>
<text x="8.7" y="847.2" font-size="10.4" text-anchor="start" font-weight="normal" font-style="normal" fill="#111" transform="rotate(-90 8.7 847.2)">Dose over 2 cycles (NU)</text>
<rect x="273" y="713.3" width="35.2" height="168.1" fill="#1400ff"/>
<rect x="308.2" y="800.71" width="35.4" height="80.69" fill="#e18f28"/>
<rect x="374.2" y="713.3" width="35.1" height="168.1" fill="#1400ff"/>
<rect x="409.3" y="801.05" width="35.3" height="80.35" fill="#e18f28"/>
<line x1="325.9" y1="800.11" x2="325.9" y2="801.31" stroke="#000" stroke-width="1.5"/>
<line x1="427" y1="800.65" x2="427" y2="801.45" stroke="#000" stroke-width="1.5"/>
<rect x="264.5" y="704.5" width="189" height="177" fill="none" stroke="#333333" stroke-width="1.1"/>
<line x1="260.7" y1="881.5" x2="264.5" y2="881.5" stroke="#333333" stroke-width="1"/>
<text x="256.1" y="884.95" font-size="10" text-anchor="end" font-weight="normal" font-style="normal" fill="#111">0.0</text>
<line x1="260.7" y1="847.5" x2="264.5" y2="847.5" stroke="#333333" stroke-width="1"/>
<text x="256.1" y="851.33" font-size="10" text-anchor="end" font-weight="normal" font-style="normal" fill="#111">0.2</text>
<line x1="260.7" y1="814.5" x2="264.5" y2="814.5" stroke="#333333" stroke-width="1"/>
<text x="256.1" y="817.71" font-size="10" text-anchor="end" font-weight="normal" font-style="normal" fill="#111">0.4</text>
<line x1="260.7" y1="780.5" x2="264.5" y2="780.5" stroke="#333333" stroke-width="1"/>
<text x="256.1" y="784.09" font-size="10" text-anchor="end" font-weight="normal" font-style="normal" fill="#111">0.6</text>
<line x1="260.7" y1="746.5" x2="264.5" y2="746.5" stroke="#333333" stroke-width="1"/>
<text x="256.1" y="750.47" font-size="10" text-anchor="end" font-weight="normal" font-style="normal" fill="#111">0.8</text>
<line x1="260.7" y1="713.5" x2="264.5" y2="713.5" stroke="#333333" stroke-width="1"/>
<text x="256.1" y="716.85" font-size="10" text-anchor="end" font-weight="normal" font-style="normal" fill="#111">1.0</text>
<line x1="308.5" y1="881.4" x2="308.5" y2="885.2" stroke="#333333" stroke-width="1"/>
<text x="308.2" y="897.5" font-size="9.3" text-anchor="middle" font-weight="normal" font-style="normal" fill="#111">Adriamycin</text>
<line x1="409.5" y1="881.4" x2="409.5" y2="885.2" stroke="#333333" stroke-width="1"/>
<text x="409.3" y="897.5" font-size="9.3" text-anchor="middle" font-weight="normal" font-style="normal" fill="#111">Cyclophosphamide</text>
<text x="359" y="909.4" font-size="10.4" text-anchor="middle" font-weight="normal" font-style="normal" fill="#111">Drug type</text>
<text x="238.2" y="833.3" font-size="10.4" text-anchor="start" font-weight="normal" font-style="normal" fill="#111" transform="rotate(-90 238.2 833.3)">Max concentration (NU)</text>
<rect x="411.4" y="707.4" width="39.4" height="23.3" rx="1.8" fill="#fff" fill-opacity="0.8" stroke="#d8d8d8" stroke-width="0.8"/>
<rect x="414.3" y="710.3" width="14.8" height="5" fill="#1400ff"/>
<rect x="414.3" y="720.8" width="14.8" height="5" fill="#e18f28"/>
<text x="435" y="715.7" font-size="7.5" text-anchor="start" font-weight="normal" font-style="normal" fill="#111">SOC</text>
<text x="435.2" y="725.7" font-size="7.5" text-anchor="start" font-weight="normal" font-style="normal" fill="#111">Opt.</text>
<rect x="503.2" y="723.86" width="35.1" height="157.54" fill="#1400ff"/>
<rect x="538.3" y="734.3" width="35.2" height="147.1" fill="#e18f28"/>
<rect x="604.4" y="829.87" width="34.6" height="51.53" fill="#1400ff"/>
<rect x="639" y="833.28" width="35.6" height="48.12" fill="#e18f28"/>
<line x1="520.7" y1="713.3" x2="520.7" y2="734.4" stroke="#000" stroke-width="1.5"/>
<line x1="556" y1="723.6" x2="556" y2="744.6" stroke="#000" stroke-width="1.5"/>
<line x1="621.7" y1="825.8" x2="621.7" y2="832.9" stroke="#000" stroke-width="1.5"/>
<line x1="656.8" y1="829.9" x2="656.8" y2="837" stroke="#000" stroke-width="1.5"/>
<rect x="494.5" y="704.5" width="189" height="177" fill="none" stroke="#333333" stroke-width="1.1"/>
<line x1="490.8" y1="881.5" x2="494.6" y2="881.5" stroke="#333333" stroke-width="1"/>
<text x="486.2" y="884.95" font-size="10" text-anchor="end" font-weight="normal" font-style="normal" fill="#111">0.0</text>
<line x1="490.8" y1="858.5" x2="494.6" y2="858.5" stroke="#333333" stroke-width="1"/>
<text x="486.2" y="862.25" font-size="10" text-anchor="end" font-weight="normal" font-style="normal" fill="#111">0.5</text>
<line x1="490.8" y1="836.5" x2="494.6" y2="836.5" stroke="#333333" stroke-width="1"/>
<text x="486.2" y="839.55" font-size="10" text-anchor="end" font-weight="normal" font-style="normal" fill="#111">1.0</text>
<line x1="490.8" y1="813.5" x2="494.6" y2="813.5" stroke="#333333" stroke-width="1"/>
<text x="486.2" y="816.85" font-size="10" text-anchor="end" font-weight="normal" font-style="normal" fill="#111">1.5</text>
<line x1="490.8" y1="790.5" x2="494.6" y2="790.5" stroke="#333333" stroke-width="1"/>
<text x="486.2" y="794.15" font-size="10" text-anchor="end" font-weight="normal" font-style="normal" fill="#111">2.0</text>
<line x1="490.8" y1="767.5" x2="494.6" y2="767.5" stroke="#333333" stroke-width="1"/>
<text x="486.2" y="771.45" font-size="10" text-anchor="end" font-weight="normal" font-style="normal" fill="#111">2.5</text>
<line x1="490.8" y1="745.5" x2="494.6" y2="745.5" stroke="#333333" stroke-width="1"/>
<text x="486.2" y="748.75" font-size="10" text-anchor="end" font-weight="normal" font-style="normal" fill="#111">3.0</text>
<line x1="490.8" y1="722.5" x2="494.6" y2="722.5" stroke="#333333" stroke-width="1"/>
<text x="486.2" y="726.05" font-size="10" text-anchor="end" font-weight="normal" font-style="normal" fill="#111">3.5</text>
<line x1="538.5" y1="881.4" x2="538.5" y2="885.2" stroke="#333333" stroke-width="1"/>
<text x="538.3" y="897.5" font-size="9.3" text-anchor="middle" font-weight="normal" font-style="normal" fill="#111">Adriamycin</text>
<line x1="639.5" y1="881.4" x2="639.5" y2="885.2" stroke="#333333" stroke-width="1"/>
<text x="639" y="897.5" font-size="9.3" text-anchor="middle" font-weight="normal" font-style="normal" fill="#111">Cyclophosphamide</text>
<text x="589" y="909.4" font-size="10.4" text-anchor="middle" font-weight="normal" font-style="normal" fill="#111">Drug type</text>
<text x="467.9" y="823.3" font-size="10.4" text-anchor="start" font-weight="normal" font-style="normal" fill="#111" transform="rotate(-90 467.9 823.3)">Toxicity (TU)</text>
<rect x="641.6" y="707.4" width="39.4" height="23.3" rx="1.8" fill="#fff" fill-opacity="0.8" stroke="#d8d8d8" stroke-width="0.8"/>
<rect x="644.5" y="710.3" width="14.8" height="5" fill="#1400ff"/>
<rect x="644.5" y="720.8" width="14.8" height="5" fill="#e18f28"/>
<text x="665.2" y="715.7" font-size="7.5" text-anchor="start" font-weight="normal" font-style="normal" fill="#111">SOC</text>
<text x="665.4" y="725.7" font-size="7.5" text-anchor="start" font-weight="normal" font-style="normal" fill="#111">Opt.</text>
</svg></body></html>
